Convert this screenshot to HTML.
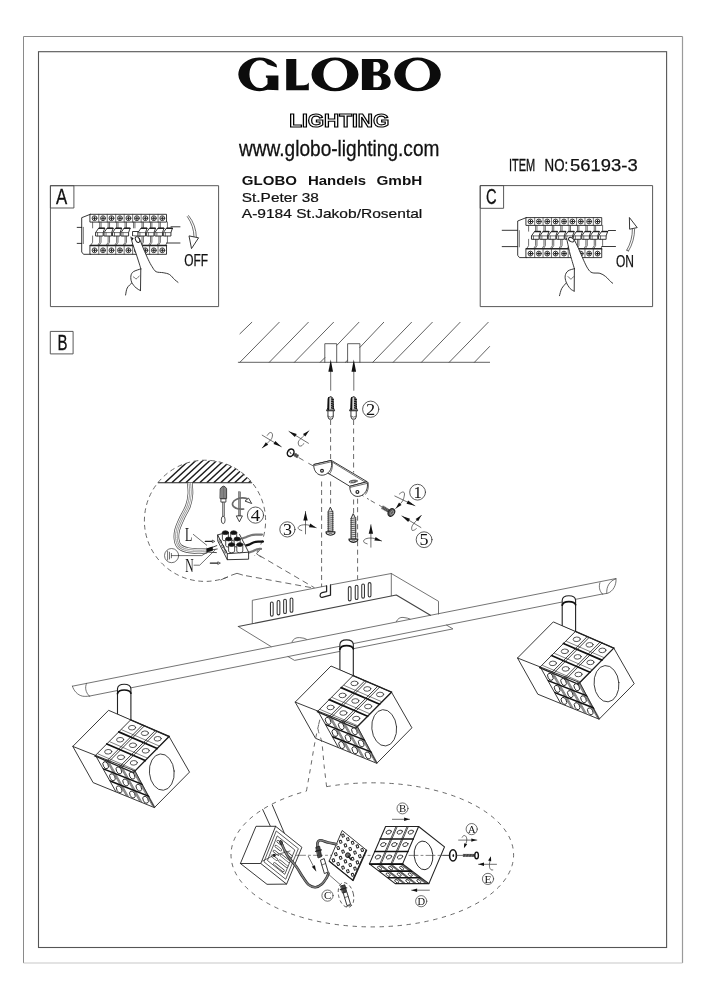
<!DOCTYPE html>
<html><head><meta charset="utf-8"><title>GLOBO 56193-3</title>
<style>
html,body{margin:0;padding:0;background:#fff;}
svg{display:block;will-change:transform;}
text{font-family:"Liberation Sans",sans-serif;fill:#111;}
.l{fill:none;stroke:#222;stroke-width:0.9;stroke-linecap:round;stroke-linejoin:round;}
.t{fill:none;stroke:#333;stroke-width:0.7;stroke-linecap:round;stroke-linejoin:round;}
.m{fill:none;stroke:#505050;stroke-width:0.8;stroke-linecap:round;stroke-linejoin:round;}
.c{fill:none;stroke:#444;stroke-width:0.85;stroke-linecap:round;}
.b{fill:none;stroke:#111;stroke-width:1.6;stroke-linecap:round;stroke-linejoin:round;}
.d{fill:none;stroke:#444;stroke-width:0.8;stroke-dasharray:5 3.5;}
.w{fill:#fff;stroke:#222;stroke-width:0.9;stroke-linejoin:round;}
.k{fill:#111;stroke:none;}
.g{fill:#777;stroke:#222;stroke-width:0.6;}
.ser{font-family:"Liberation Serif",serif;}
</style></head><body>
<svg width="706" height="1000" viewBox="0 0 706 1000">
<rect width="706" height="1000" fill="#fff"/>
<!-- s_head -->
<g id="frame" fill="none">
<path d="M23.5 963 V36.5 H682.5" stroke="#8a8a8a" stroke-width="1"/>
<path d="M682.5 36.5 V963" stroke="#9a9a9a" stroke-width="1.2"/>
<path d="M23.5 963 H682.5" stroke="#c8c8c8" stroke-width="1.2"/>
<rect x="38.5" y="51.7" width="628.1" height="895.8" stroke="#555" stroke-width="1.1"/>
</g>
<g id="header">
<path d="M276.5 64.4 A21.1 16.8 0 1 0 267.5 89.85 L278.4 90.2 V75.4 H265.9 V77.4 L267.5 77.9 V83.9 A10.5 13.9 0 1 1 267.5 64.5 L277 67.4 Z M286.2 59 H296.3 V85.5 L304 85.3 Q307.6 85 308.8 82.6 V90.2 H286.2 Z M311.5 74.45 A23.5 16.85 0 1 0 358.5 74.45 A23.5 16.85 0 1 0 311.5 74.45 Z M323.4 74.2 A11.9 13.9 0 1 0 347.2 74.2 A11.9 13.9 0 1 0 323.4 74.2 Z M361.9 58.9 H378 C385 58.9 388.3 61.5 388.3 66 C388.3 70 386 72.5 382.5 73.4 C387.5 74.2 390.7 77 390.7 81.8 C390.7 87 386.5 90.1 379 90.1 H361.9 Z M373.4 61.9 H376 C379 61.9 380.3 63.8 380.3 66.8 C380.3 70 379 71.8 376 71.8 H373.4 Z M373.4 75.4 H376.5 C380 75.4 381.7 77.6 381.7 81.3 C381.7 85.2 380 87.3 376.5 87.3 H373.4 Z M394.2 74.45 A23.3 16.85 0 1 0 440.8 74.45 A23.3 16.85 0 1 0 394.2 74.45 Z M405.5 74.2 A12.2 13.9 0 1 0 429.9 74.2 A12.2 13.9 0 1 0 405.5 74.2 Z" fill="#0c0c0c" fill-rule="evenodd"/>
<text x="289.2" y="126.9" font-size="17.8" font-weight="bold" textLength="100" lengthAdjust="spacingAndGlyphs" style="fill:#fff;stroke:#000;stroke-width:1.1">LIGHTING</text>
<text x="239" y="156.3" font-size="22.5" textLength="200.4" lengthAdjust="spacingAndGlyphs" style="stroke:#111;stroke-width:0.3">www.globo-lighting.com</text>
<text x="241.8" y="184.8" font-size="12.6" font-weight="bold" textLength="55.2" lengthAdjust="spacingAndGlyphs">GLOBO</text>
<text x="307.9" y="184.8" font-size="12.6" font-weight="bold" textLength="58.3" lengthAdjust="spacingAndGlyphs">Handels</text>
<text x="376.5" y="184.8" font-size="12.6" font-weight="bold" textLength="45.8" lengthAdjust="spacingAndGlyphs">GmbH</text>
<text x="241.8" y="202" font-size="12.8" textLength="77" lengthAdjust="spacingAndGlyphs" style="stroke:#111;stroke-width:0.2">St.Peter 38</text>
<text x="241.8" y="217.9" font-size="12.8" textLength="180.5" lengthAdjust="spacingAndGlyphs" style="stroke:#111;stroke-width:0.2">A-9184 St.Jakob/Rosental</text>
<text x="508.9" y="170.6" font-size="16.8" textLength="26.2" lengthAdjust="spacingAndGlyphs" style="stroke:#111;stroke-width:0.35">ITEM</text>
<text x="544.6" y="170.6" font-size="16.8" textLength="23.6" lengthAdjust="spacingAndGlyphs" style="stroke:#111;stroke-width:0.35">NO:</text>
<text x="570.1" y="170.6" font-size="16.8" textLength="67.6" lengthAdjust="spacingAndGlyphs" style="stroke:#111;stroke-width:0.25">56193-3</text>
</g>
<!-- s_panels -->
<g id="panelA">
<rect class="m" x="50.8" y="185.7" width="167.8" height="120.9" style="stroke-width:0.95"/>
<rect class="m" x="50.8" y="185.7" width="23.1" height="22.3" style="stroke-width:0.95"/>
<text x="56.1" y="203.8" font-size="21.6" textLength="11.2" lengthAdjust="spacingAndGlyphs" style="stroke:#111;stroke-width:0.3">A</text>
<g transform="translate(90.3 214.3)">
<rect class="l" x="0" y="0" width="76.23" height="7.8"/>
<circle class="l" cx="4.24" cy="3.9" r="2.45" style="stroke-width:0.95;stroke:#333"/>
<path class="l" d="M2.74 3.9 H5.74 M4.24 2.4 V5.4" style="stroke-width:1.05;stroke:#222"/>
<path class="t" d="M8.47 0 L8.47 7.8"/>
<circle class="l" cx="12.71" cy="3.9" r="2.45" style="stroke-width:0.95;stroke:#333"/>
<path class="l" d="M11.21 3.9 H14.21 M12.71 2.4 V5.4" style="stroke-width:1.05;stroke:#222"/>
<path class="t" d="M16.94 0 L16.94 7.8"/>
<circle class="l" cx="21.18" cy="3.9" r="2.45" style="stroke-width:0.95;stroke:#333"/>
<path class="l" d="M19.68 3.9 H22.68 M21.18 2.4 V5.4" style="stroke-width:1.05;stroke:#222"/>
<path class="t" d="M25.41 0 L25.41 7.8"/>
<circle class="l" cx="29.65" cy="3.9" r="2.45" style="stroke-width:0.95;stroke:#333"/>
<path class="l" d="M28.15 3.9 H31.15 M29.65 2.4 V5.4" style="stroke-width:1.05;stroke:#222"/>
<path class="t" d="M33.88 0 L33.88 7.8"/>
<circle class="l" cx="38.12" cy="3.9" r="2.45" style="stroke-width:0.95;stroke:#333"/>
<path class="l" d="M36.62 3.9 H39.62 M38.12 2.4 V5.4" style="stroke-width:1.05;stroke:#222"/>
<path class="t" d="M42.35 0 L42.35 7.8"/>
<circle class="l" cx="46.59" cy="3.9" r="2.45" style="stroke-width:0.95;stroke:#333"/>
<path class="l" d="M45.09 3.9 H48.09 M46.59 2.4 V5.4" style="stroke-width:1.05;stroke:#222"/>
<path class="t" d="M50.82 0 L50.82 7.8"/>
<circle class="l" cx="55.06" cy="3.9" r="2.45" style="stroke-width:0.95;stroke:#333"/>
<path class="l" d="M53.56 3.9 H56.56 M55.06 2.4 V5.4" style="stroke-width:1.05;stroke:#222"/>
<path class="t" d="M59.29 0 L59.29 7.8"/>
<circle class="l" cx="63.53" cy="3.9" r="2.45" style="stroke-width:0.95;stroke:#333"/>
<path class="l" d="M62.03 3.9 H65.03 M63.53 2.4 V5.4" style="stroke-width:1.05;stroke:#222"/>
<path class="t" d="M67.76 0 L67.76 7.8"/>
<circle class="l" cx="72" cy="3.9" r="2.45" style="stroke-width:0.95;stroke:#333"/>
<path class="l" d="M70.5 3.9 H73.5 M72 2.4 V5.4" style="stroke-width:1.05;stroke:#222"/>
<path class="t" d="M2.3 7.8 L2.3 13.6"/>
<path class="t" d="M10.77 7.8 L10.77 13.6"/>
<path class="t" d="M9.37 7.8 L9.37 13.6"/>
<path class="t" d="M19.24 7.8 L19.24 13.6"/>
<path class="t" d="M17.84 7.8 L17.84 13.6"/>
<path class="t" d="M27.71 7.8 L27.71 13.6"/>
<path class="t" d="M26.31 7.8 L26.31 13.6"/>
<path class="t" d="M36.18 7.8 L36.18 13.6"/>
<path class="t" d="M34.78 7.8 L34.78 13.6"/>
<path class="t" d="M44.65 7.8 L44.65 13.6"/>
<path class="t" d="M43.25 7.8 L43.25 13.6"/>
<path class="t" d="M53.12 7.8 L53.12 13.6"/>
<path class="t" d="M51.72 7.8 L51.72 13.6"/>
<path class="t" d="M61.59 7.8 L61.59 13.6"/>
<path class="t" d="M60.19 7.8 L60.19 13.6"/>
<path class="t" d="M70.06 7.8 L70.06 13.6"/>
<path class="t" d="M68.66 7.8 L68.66 13.6"/>
<path class="t" d="M77.13 7.8 L77.13 13.6"/>
<path class="t" d="M2.3 21.7 L2.3 28 L0.6 30.7"/>
<path class="t" d="M10.77 21.7 L10.77 28 L9.07 30.7"/>
<path class="t" d="M9.37 21.7 L9.37 28 L7.67 30.7"/>
<path class="t" d="M19.24 21.7 L19.24 28 L17.54 30.7"/>
<path class="t" d="M17.84 21.7 L17.84 28 L16.14 30.7"/>
<path class="t" d="M27.71 21.7 L27.71 28 L26.01 30.7"/>
<path class="t" d="M26.31 21.7 L26.31 28 L24.61 30.7"/>
<path class="t" d="M36.18 21.7 L36.18 28 L34.48 30.7"/>
<path class="t" d="M34.78 21.7 L34.78 28 L33.08 30.7"/>
<path class="t" d="M44.65 21.7 L44.65 28 L42.95 30.7"/>
<path class="t" d="M43.25 21.7 L43.25 28 L41.55 30.7"/>
<path class="t" d="M53.12 21.7 L53.12 28 L51.42 30.7"/>
<path class="t" d="M51.72 21.7 L51.72 28 L50.02 30.7"/>
<path class="t" d="M61.59 21.7 L61.59 28 L59.89 30.7"/>
<path class="t" d="M60.19 21.7 L60.19 28 L58.49 30.7"/>
<path class="t" d="M70.06 21.7 L70.06 28 L68.36 30.7"/>
<path class="t" d="M68.66 21.7 L68.66 28 L66.96 30.7"/>
<path class="t" d="M77.13 21.7 L77.13 28 L75.43 30.7"/>
<rect class="l" x="0" y="30.9" width="76.23" height="9.1"/>
<path class="l" d="M0 31.3 L76.23 31.3" style="stroke-width:1.3"/>
<circle class="l" cx="4.24" cy="36" r="2.45" style="stroke-width:0.95;stroke:#333"/>
<path class="l" d="M2.74 36 H5.74 M4.24 34.5 V37.5" style="stroke-width:1.05;stroke:#222"/>
<path class="t" d="M8.47 31 L8.47 40"/>
<circle class="l" cx="12.71" cy="36" r="2.45" style="stroke-width:0.95;stroke:#333"/>
<path class="l" d="M11.21 36 H14.21 M12.71 34.5 V37.5" style="stroke-width:1.05;stroke:#222"/>
<path class="t" d="M16.94 31 L16.94 40"/>
<circle class="l" cx="21.18" cy="36" r="2.45" style="stroke-width:0.95;stroke:#333"/>
<path class="l" d="M19.68 36 H22.68 M21.18 34.5 V37.5" style="stroke-width:1.05;stroke:#222"/>
<path class="t" d="M25.41 31 L25.41 40"/>
<circle class="l" cx="29.65" cy="36" r="2.45" style="stroke-width:0.95;stroke:#333"/>
<path class="l" d="M28.15 36 H31.15 M29.65 34.5 V37.5" style="stroke-width:1.05;stroke:#222"/>
<path class="t" d="M33.88 31 L33.88 40"/>
<circle class="l" cx="38.12" cy="36" r="2.45" style="stroke-width:0.95;stroke:#333"/>
<path class="l" d="M36.62 36 H39.62 M38.12 34.5 V37.5" style="stroke-width:1.05;stroke:#222"/>
<path class="t" d="M42.35 31 L42.35 40"/>
<circle class="l" cx="46.59" cy="36" r="2.45" style="stroke-width:0.95;stroke:#333"/>
<path class="l" d="M45.09 36 H48.09 M46.59 34.5 V37.5" style="stroke-width:1.05;stroke:#222"/>
<path class="t" d="M50.82 31 L50.82 40"/>
<circle class="l" cx="55.06" cy="36" r="2.45" style="stroke-width:0.95;stroke:#333"/>
<path class="l" d="M53.56 36 H56.56 M55.06 34.5 V37.5" style="stroke-width:1.05;stroke:#222"/>
<path class="t" d="M59.29 31 L59.29 40"/>
<circle class="l" cx="63.53" cy="36" r="2.45" style="stroke-width:0.95;stroke:#333"/>
<path class="l" d="M62.03 36 H65.03 M63.53 34.5 V37.5" style="stroke-width:1.05;stroke:#222"/>
<path class="t" d="M67.76 31 L67.76 40"/>
<circle class="l" cx="72" cy="36" r="2.45" style="stroke-width:0.95;stroke:#333"/>
<path class="l" d="M70.5 36 H73.5 M72 34.5 V37.5" style="stroke-width:1.05;stroke:#222"/>
<path class="w" d="M8.47 13.7 L14.47 13.7 L12.87 18.3 L12.87 21.7 L5.27 21.7 L5.27 18.3 Z"/>
<path class="t" d="M5.27 18.3 L12.87 18.3"/>
<path class="t" d="M7.27 18.3 L7.27 21.7"/>
<path class="l" d="M8.67 14.1 L14.27 14.1" style="stroke-width:1.2"/>
<path class="w" d="M16.94 13.7 L22.94 13.7 L21.34 18.3 L21.34 21.7 L13.74 21.7 L13.74 18.3 Z"/>
<path class="t" d="M13.74 18.3 L21.34 18.3"/>
<path class="t" d="M15.74 18.3 L15.74 21.7"/>
<path class="l" d="M17.14 14.1 L22.74 14.1" style="stroke-width:1.2"/>
<path class="w" d="M25.41 13.7 L31.41 13.7 L29.81 18.3 L29.81 21.7 L22.21 21.7 L22.21 18.3 Z"/>
<path class="t" d="M22.21 18.3 L29.81 18.3"/>
<path class="t" d="M24.21 18.3 L24.21 21.7"/>
<path class="l" d="M25.61 14.1 L31.21 14.1" style="stroke-width:1.2"/>
<path class="w" d="M33.88 13.7 L39.88 13.7 L38.28 18.3 L38.28 21.7 L30.68 21.7 L30.68 18.3 Z"/>
<path class="t" d="M30.68 18.3 L38.28 18.3"/>
<path class="t" d="M32.68 18.3 L32.68 21.7"/>
<path class="l" d="M34.08 14.1 L39.68 14.1" style="stroke-width:1.2"/>
<path class="w" d="M42.25 17.2 L50.25 17.2 L50.25 21.7 L42.25 21.7 Z"/>
<path class="w" d="M50.82 13.7 L56.82 13.7 L55.22 18.3 L55.22 21.7 L47.62 21.7 L47.62 18.3 Z"/>
<path class="t" d="M47.62 18.3 L55.22 18.3"/>
<path class="t" d="M49.62 18.3 L49.62 21.7"/>
<path class="l" d="M51.02 14.1 L56.62 14.1" style="stroke-width:1.2"/>
<path class="w" d="M59.29 13.7 L65.29 13.7 L63.69 18.3 L63.69 21.7 L56.09 21.7 L56.09 18.3 Z"/>
<path class="t" d="M56.09 18.3 L63.69 18.3"/>
<path class="t" d="M58.09 18.3 L58.09 21.7"/>
<path class="l" d="M59.49 14.1 L65.09 14.1" style="stroke-width:1.2"/>
<path class="w" d="M67.76 13.7 L73.76 13.7 L72.16 18.3 L72.16 21.7 L64.56 21.7 L64.56 18.3 Z"/>
<path class="t" d="M64.56 18.3 L72.16 18.3"/>
<path class="t" d="M66.56 18.3 L66.56 21.7"/>
<path class="l" d="M67.96 14.1 L73.56 14.1" style="stroke-width:1.2"/>
<path class="w" d="M76.23 13.7 L82.23 13.7 L80.63 18.3 L80.63 21.7 L73.03 21.7 L73.03 18.3 Z"/>
<path class="t" d="M73.03 18.3 L80.63 18.3"/>
<path class="t" d="M75.03 18.3 L75.03 21.7"/>
<path class="l" d="M76.43 14.1 L82.03 14.1" style="stroke-width:1.2"/>
<path class="l" d="M0 0 L-8.6 3.4 L-8.6 37.7 L-6.8 40 L0 40"/>
<path class="t" d="M-7 13 L-7 29.3"/>
</g>
<path class="l" d="M77.2 227.4 L81.7 227.4"/>
<path class="l" d="M77.2 243.4 L81.7 243.4"/>
<path class="l" d="M171 226.8 L180 226.8"/>
<path class="l" d="M166.6 243 L180 243"/>
<path d="M131.2 237 L133 236 L138.8 237.5 L139.3 238.2 L143.3 248.3 L148.3 259.7 L152.1 266.7 L145 280 L140.8 285 L140.8 268.9 L139.8 265.3 L136.2 254 L132.7 244.1 L130.9 237 Z" fill="#fff" stroke="none"/>
<path class="l" d="M130.9 237 C131.2 238.18 131.82 241.27 132.7 244.1 C133.58 246.93 135.02 250.47 136.2 254 C137.38 257.53 139.03 262.82 139.8 265.3 C140.57 267.78 140.63 268.3 140.8 268.9"/>
<path class="l" d="M139.3 238.2 C139.97 239.88 141.8 244.72 143.3 248.3 C144.8 251.88 146.83 256.63 148.3 259.7 C149.77 262.77 150.8 264.7 152.1 266.7 C153.4 268.7 154.25 270.7 156.1 271.7 C157.95 272.7 160.97 272.23 163.2 272.7 C165.43 273.17 167.62 273.37 169.5 274.5 C171.38 275.63 173.08 278.2 174.5 279.5 C175.92 280.8 177.42 281.83 178 282.3"/>
<path class="l" d="M140.8 268.9 C139.57 269.37 135.05 270.52 133.4 271.7 C131.75 272.88 131.18 274.23 130.9 276 C130.62 277.77 130.82 280.3 131.7 282.3 C132.58 284.3 134.75 286.63 136.2 288 C137.65 289.37 139.7 290.08 140.4 290.5"/>
<path class="l" d="M140.8 268.9 L140.5 290.5"/>
<path class="t" d="M133.4 276.7 C133.87 277.05 135.25 278.92 136.2 278.8 C137.15 278.68 138.62 276.47 139.1 276"/>
<path class="l" d="M131.7 283 C130.95 283.83 128.22 286 127.2 288 C126.18 290 125.87 293.83 125.6 295"/>
<ellipse class="w" cx="137.5" cy="239.6" rx="1.9" ry="3.1" transform="rotate(-28 137.5 239.6)"/>
<path class="k" d="M131.2 237 L132.2 240.5 L133.6 238.2 Z"/>
<path class="t" d="M188.6 215.6 Q196.2 225 196.4 237.6"/>
<path class="t" d="M187.3 216.6 Q193.9 226 194 237"/>
<path class="w" d="M189 235.9 L198.6 237.8 L191.5 248.6 Z"/>
<text x="184.2" y="266.3" font-size="16" textLength="23.8" lengthAdjust="spacingAndGlyphs" style="stroke:#111;stroke-width:0.25">OFF</text>
</g>
<g id="panelC">
<rect class="m" x="480.6" y="185.6" width="172" height="121" style="stroke-width:0.95"/>
<rect class="m" x="480.6" y="185.6" width="23" height="22.7" style="stroke-width:0.95"/>
<text x="485.9" y="204" font-size="21.2" textLength="10.6" lengthAdjust="spacingAndGlyphs" style="stroke:#111;stroke-width:0.3">C</text>
<g transform="translate(526.3 217.6)">
<rect class="l" x="0" y="0" width="75.42" height="7.8"/>
<circle class="l" cx="4.19" cy="3.9" r="2.45" style="stroke-width:0.95;stroke:#333"/>
<path class="l" d="M2.69 3.9 H5.69 M4.19 2.4 V5.4" style="stroke-width:1.05;stroke:#222"/>
<path class="t" d="M8.38 0 L8.38 7.8"/>
<circle class="l" cx="12.57" cy="3.9" r="2.45" style="stroke-width:0.95;stroke:#333"/>
<path class="l" d="M11.07 3.9 H14.07 M12.57 2.4 V5.4" style="stroke-width:1.05;stroke:#222"/>
<path class="t" d="M16.76 0 L16.76 7.8"/>
<circle class="l" cx="20.95" cy="3.9" r="2.45" style="stroke-width:0.95;stroke:#333"/>
<path class="l" d="M19.45 3.9 H22.45 M20.95 2.4 V5.4" style="stroke-width:1.05;stroke:#222"/>
<path class="t" d="M25.14 0 L25.14 7.8"/>
<circle class="l" cx="29.33" cy="3.9" r="2.45" style="stroke-width:0.95;stroke:#333"/>
<path class="l" d="M27.83 3.9 H30.83 M29.33 2.4 V5.4" style="stroke-width:1.05;stroke:#222"/>
<path class="t" d="M33.52 0 L33.52 7.8"/>
<circle class="l" cx="37.71" cy="3.9" r="2.45" style="stroke-width:0.95;stroke:#333"/>
<path class="l" d="M36.21 3.9 H39.21 M37.71 2.4 V5.4" style="stroke-width:1.05;stroke:#222"/>
<path class="t" d="M41.9 0 L41.9 7.8"/>
<circle class="l" cx="46.09" cy="3.9" r="2.45" style="stroke-width:0.95;stroke:#333"/>
<path class="l" d="M44.59 3.9 H47.59 M46.09 2.4 V5.4" style="stroke-width:1.05;stroke:#222"/>
<path class="t" d="M50.28 0 L50.28 7.8"/>
<circle class="l" cx="54.47" cy="3.9" r="2.45" style="stroke-width:0.95;stroke:#333"/>
<path class="l" d="M52.97 3.9 H55.97 M54.47 2.4 V5.4" style="stroke-width:1.05;stroke:#222"/>
<path class="t" d="M58.66 0 L58.66 7.8"/>
<circle class="l" cx="62.85" cy="3.9" r="2.45" style="stroke-width:0.95;stroke:#333"/>
<path class="l" d="M61.35 3.9 H64.35 M62.85 2.4 V5.4" style="stroke-width:1.05;stroke:#222"/>
<path class="t" d="M67.04 0 L67.04 7.8"/>
<circle class="l" cx="71.23" cy="3.9" r="2.45" style="stroke-width:0.95;stroke:#333"/>
<path class="l" d="M69.73 3.9 H72.73 M71.23 2.4 V5.4" style="stroke-width:1.05;stroke:#222"/>
<path class="t" d="M2.3 7.8 L2.3 13.6"/>
<path class="t" d="M10.68 7.8 L10.68 13.6"/>
<path class="t" d="M9.28 7.8 L9.28 13.6"/>
<path class="t" d="M19.06 7.8 L19.06 13.6"/>
<path class="t" d="M17.66 7.8 L17.66 13.6"/>
<path class="t" d="M27.44 7.8 L27.44 13.6"/>
<path class="t" d="M26.04 7.8 L26.04 13.6"/>
<path class="t" d="M35.82 7.8 L35.82 13.6"/>
<path class="t" d="M34.42 7.8 L34.42 13.6"/>
<path class="t" d="M44.2 7.8 L44.2 13.6"/>
<path class="t" d="M42.8 7.8 L42.8 13.6"/>
<path class="t" d="M52.58 7.8 L52.58 13.6"/>
<path class="t" d="M51.18 7.8 L51.18 13.6"/>
<path class="t" d="M60.96 7.8 L60.96 13.6"/>
<path class="t" d="M59.56 7.8 L59.56 13.6"/>
<path class="t" d="M69.34 7.8 L69.34 13.6"/>
<path class="t" d="M67.94 7.8 L67.94 13.6"/>
<path class="t" d="M76.32 7.8 L76.32 13.6"/>
<path class="t" d="M2.3 21.7 L2.3 28 L0.6 30.7"/>
<path class="t" d="M10.68 21.7 L10.68 28 L8.98 30.7"/>
<path class="t" d="M9.28 21.7 L9.28 28 L7.58 30.7"/>
<path class="t" d="M19.06 21.7 L19.06 28 L17.36 30.7"/>
<path class="t" d="M17.66 21.7 L17.66 28 L15.96 30.7"/>
<path class="t" d="M27.44 21.7 L27.44 28 L25.74 30.7"/>
<path class="t" d="M26.04 21.7 L26.04 28 L24.34 30.7"/>
<path class="t" d="M35.82 21.7 L35.82 28 L34.12 30.7"/>
<path class="t" d="M34.42 21.7 L34.42 28 L32.72 30.7"/>
<path class="t" d="M44.2 21.7 L44.2 28 L42.5 30.7"/>
<path class="t" d="M42.8 21.7 L42.8 28 L41.1 30.7"/>
<path class="t" d="M52.58 21.7 L52.58 28 L50.88 30.7"/>
<path class="t" d="M51.18 21.7 L51.18 28 L49.48 30.7"/>
<path class="t" d="M60.96 21.7 L60.96 28 L59.26 30.7"/>
<path class="t" d="M59.56 21.7 L59.56 28 L57.86 30.7"/>
<path class="t" d="M69.34 21.7 L69.34 28 L67.64 30.7"/>
<path class="t" d="M67.94 21.7 L67.94 28 L66.24 30.7"/>
<path class="t" d="M76.32 21.7 L76.32 28 L74.62 30.7"/>
<rect class="l" x="0" y="30.9" width="75.42" height="9.1"/>
<path class="l" d="M0 31.3 L75.42 31.3" style="stroke-width:1.3"/>
<circle class="l" cx="4.19" cy="36" r="2.45" style="stroke-width:0.95;stroke:#333"/>
<path class="l" d="M2.69 36 H5.69 M4.19 34.5 V37.5" style="stroke-width:1.05;stroke:#222"/>
<path class="t" d="M8.38 31 L8.38 40"/>
<circle class="l" cx="12.57" cy="36" r="2.45" style="stroke-width:0.95;stroke:#333"/>
<path class="l" d="M11.07 36 H14.07 M12.57 34.5 V37.5" style="stroke-width:1.05;stroke:#222"/>
<path class="t" d="M16.76 31 L16.76 40"/>
<circle class="l" cx="20.95" cy="36" r="2.45" style="stroke-width:0.95;stroke:#333"/>
<path class="l" d="M19.45 36 H22.45 M20.95 34.5 V37.5" style="stroke-width:1.05;stroke:#222"/>
<path class="t" d="M25.14 31 L25.14 40"/>
<circle class="l" cx="29.33" cy="36" r="2.45" style="stroke-width:0.95;stroke:#333"/>
<path class="l" d="M27.83 36 H30.83 M29.33 34.5 V37.5" style="stroke-width:1.05;stroke:#222"/>
<path class="t" d="M33.52 31 L33.52 40"/>
<circle class="l" cx="37.71" cy="36" r="2.45" style="stroke-width:0.95;stroke:#333"/>
<path class="l" d="M36.21 36 H39.21 M37.71 34.5 V37.5" style="stroke-width:1.05;stroke:#222"/>
<path class="t" d="M41.9 31 L41.9 40"/>
<circle class="l" cx="46.09" cy="36" r="2.45" style="stroke-width:0.95;stroke:#333"/>
<path class="l" d="M44.59 36 H47.59 M46.09 34.5 V37.5" style="stroke-width:1.05;stroke:#222"/>
<path class="t" d="M50.28 31 L50.28 40"/>
<circle class="l" cx="54.47" cy="36" r="2.45" style="stroke-width:0.95;stroke:#333"/>
<path class="l" d="M52.97 36 H55.97 M54.47 34.5 V37.5" style="stroke-width:1.05;stroke:#222"/>
<path class="t" d="M58.66 31 L58.66 40"/>
<circle class="l" cx="62.85" cy="36" r="2.45" style="stroke-width:0.95;stroke:#333"/>
<path class="l" d="M61.35 36 H64.35 M62.85 34.5 V37.5" style="stroke-width:1.05;stroke:#222"/>
<path class="t" d="M67.04 31 L67.04 40"/>
<circle class="l" cx="71.23" cy="36" r="2.45" style="stroke-width:0.95;stroke:#333"/>
<path class="l" d="M69.73 36 H72.73 M71.23 34.5 V37.5" style="stroke-width:1.05;stroke:#222"/>
<path class="w" d="M8.38 13.7 L14.38 13.7 L12.78 18.3 L12.78 21.7 L5.18 21.7 L5.18 18.3 Z"/>
<path class="t" d="M5.18 18.3 L12.78 18.3"/>
<path class="t" d="M7.18 18.3 L7.18 21.7"/>
<path class="l" d="M8.58 14.1 L14.18 14.1" style="stroke-width:1.2"/>
<path class="w" d="M16.76 13.7 L22.76 13.7 L21.16 18.3 L21.16 21.7 L13.56 21.7 L13.56 18.3 Z"/>
<path class="t" d="M13.56 18.3 L21.16 18.3"/>
<path class="t" d="M15.56 18.3 L15.56 21.7"/>
<path class="l" d="M16.96 14.1 L22.56 14.1" style="stroke-width:1.2"/>
<path class="w" d="M25.14 13.7 L31.14 13.7 L29.54 18.3 L29.54 21.7 L21.94 21.7 L21.94 18.3 Z"/>
<path class="t" d="M21.94 18.3 L29.54 18.3"/>
<path class="t" d="M23.94 18.3 L23.94 21.7"/>
<path class="l" d="M25.34 14.1 L30.94 14.1" style="stroke-width:1.2"/>
<path class="w" d="M33.52 13.7 L39.52 13.7 L37.92 18.3 L37.92 21.7 L30.32 21.7 L30.32 18.3 Z"/>
<path class="t" d="M30.32 18.3 L37.92 18.3"/>
<path class="t" d="M32.32 18.3 L32.32 21.7"/>
<path class="l" d="M33.72 14.1 L39.32 14.1" style="stroke-width:1.2"/>
<path class="w" d="M41.9 13.7 L47.9 13.7 L46.3 18.3 L46.3 21.7 L38.7 21.7 L38.7 18.3 Z"/>
<path class="t" d="M38.7 18.3 L46.3 18.3"/>
<path class="t" d="M40.7 18.3 L40.7 21.7"/>
<path class="l" d="M42.1 14.1 L47.7 14.1" style="stroke-width:1.2"/>
<path class="w" d="M50.28 13.7 L56.28 13.7 L54.68 18.3 L54.68 21.7 L47.08 21.7 L47.08 18.3 Z"/>
<path class="t" d="M47.08 18.3 L54.68 18.3"/>
<path class="t" d="M49.08 18.3 L49.08 21.7"/>
<path class="l" d="M50.48 14.1 L56.08 14.1" style="stroke-width:1.2"/>
<path class="w" d="M58.66 13.7 L64.66 13.7 L63.06 18.3 L63.06 21.7 L55.46 21.7 L55.46 18.3 Z"/>
<path class="t" d="M55.46 18.3 L63.06 18.3"/>
<path class="t" d="M57.46 18.3 L57.46 21.7"/>
<path class="l" d="M58.86 14.1 L64.46 14.1" style="stroke-width:1.2"/>
<path class="w" d="M67.04 13.7 L73.04 13.7 L71.44 18.3 L71.44 21.7 L63.84 21.7 L63.84 18.3 Z"/>
<path class="t" d="M63.84 18.3 L71.44 18.3"/>
<path class="t" d="M65.84 18.3 L65.84 21.7"/>
<path class="l" d="M67.24 14.1 L72.84 14.1" style="stroke-width:1.2"/>
<path class="w" d="M75.42 13.7 L81.42 13.7 L79.82 18.3 L79.82 21.7 L72.22 21.7 L72.22 18.3 Z"/>
<path class="t" d="M72.22 18.3 L79.82 18.3"/>
<path class="t" d="M74.22 18.3 L74.22 21.7"/>
<path class="l" d="M75.62 14.1 L81.22 14.1" style="stroke-width:1.2"/>
<path class="l" d="M0 0 L-8.6 3.4 L-8.6 37.7 L-6.8 40 L0 40"/>
<path class="t" d="M-7 13 L-7 29.3"/>
</g>
<path class="l" d="M502.2 230.3 L517.5 230.3"/>
<path class="l" d="M502.2 246.6 L517.5 246.6"/>
<path class="l" d="M608.4 230.5 L615.5 230.5"/>
<path class="l" d="M602 246.5 L615.5 246.5"/>
<path d="M566.6 238.3 L568.5 236.5 L573.5 238 L573.9 239 L578.7 248.9 L583.6 260.2 L587.9 268.7 L580 282 L574.4 286 L574.4 268.7 L572.3 261.7 L569.5 251.7 L566.6 238.3 Z" fill="#fff" stroke="none"/>
<path class="l" d="M566.6 238.3 C567.08 240.53 568.55 247.8 569.5 251.7 C570.45 255.6 571.48 258.87 572.3 261.7 C573.12 264.53 574.05 267.53 574.4 268.7"/>
<path class="l" d="M573.9 239 C574.7 240.65 577.08 245.37 578.7 248.9 C580.32 252.43 582.07 256.9 583.6 260.2 C585.13 263.5 586.48 266.62 587.9 268.7 C589.32 270.78 590.1 271.93 592.1 272.7 C594.1 273.47 597.65 272.67 599.9 273.3 C602.15 273.93 603.83 275.13 605.6 276.5 C607.37 277.87 609.32 280.38 610.5 281.5 C611.68 282.62 612.33 282.92 612.7 283.2"/>
<path class="l" d="M574.4 268.7 C573.33 269.07 569.53 269.72 568 270.9 C566.47 272.08 565.5 273.92 565.2 275.8 C564.9 277.68 565.37 280.07 566.2 282.2 C567.03 284.33 568.88 287.12 570.2 288.6 C571.52 290.08 573.45 290.68 574.1 291.1"/>
<path class="l" d="M574.4 268.7 L574.2 291.1"/>
<path class="t" d="M568 276.5 C568.48 276.92 569.95 279 570.9 279 C571.85 279 573.23 276.92 573.7 276.5"/>
<path class="l" d="M566.2 283 C565.45 283.93 562.82 286.48 561.7 288.6 C560.58 290.72 559.87 294.52 559.5 295.7"/>
<ellipse class="w" cx="571.3" cy="239.7" rx="1.9" ry="3" transform="rotate(-60 571.3 239.7)"/>
<path class="t" d="M634.6 229.1 Q634.6 241 628.5 251"/>
<path class="t" d="M632.4 229 Q632.6 240 626.8 250.2"/>
<path class="w" d="M629.4 217.5 L629.6 229.2 L637.2 227.6 Z"/>
<path class="t" d="M626.8 250.2 L628.5 251"/>
<text x="616" y="267.2" font-size="16" textLength="18" lengthAdjust="spacingAndGlyphs" style="stroke:#111;stroke-width:0.25">ON</text>
</g>
<rect class="m" x="50.7" y="331.4" width="22.4" height="22.5" style="stroke-width:0.95"/>
<text x="57.4" y="349.8" font-size="21.4" textLength="10" lengthAdjust="spacingAndGlyphs" style="stroke:#111;stroke-width:0.3">B</text>
<!-- s_ceiling -->
<g id="ceiling">
<path class="c" d="M238.3 362.3 L489.6 362.3"/>
<path class="c" d="M239.9 333.8 L251.8 322.3"/>
<path class="c" d="M239.9 362.3 L279.2 322.3"/>
<path class="c" d="M269.3 362.3 L308.3 322.3"/>
<path class="c" d="M294.4 362.3 L333.5 322.3"/>
<path class="c" d="M320.2 362.3 L324.8 357.7"/>
<path class="c" d="M337 345.2 L358.9 322.3"/>
<path class="c" d="M345.4 362.3 L347.6 360.2"/>
<path class="c" d="M359.9 347.4 L383.7 322.3"/>
<path class="c" d="M372.8 362.3 L411.5 322.3"/>
<path class="c" d="M393.2 362.3 L432.3 322.3"/>
<path class="c" d="M421.4 362.3 L460.1 322.3"/>
<path class="c" d="M449.2 362.3 L488.2 322.3"/>
<path class="c" d="M474.4 362.3 L489.6 346.5"/>
<path class="c" d="M324.8 362.3 L324.8 343.7 L336.7 343.7 L336.7 362.3"/>
<path class="c" d="M347.6 362.3 L347.6 343.7 L359.9 343.7 L359.9 362.3"/>
<path class="t" d="M330.7 390.3 L330.7 368"/>
<path class="k" d="M330.7 359.4 L328.4 371.8 L333 371.8 Z"/>
<path class="t" d="M353.8 390.3 L353.8 368"/>
<path class="k" d="M353.8 359.4 L351.5 371.8 L356.1 371.8 Z"/>
</g>
<!-- s_mount -->
<g id="mount">
<path class="d" d="M330.6 420 L330.6 460.4"/>
<path class="d" d="M353.6 420 L353.6 472.5"/>
<path class="d" d="M330.6 481.5 L330.6 506.5"/>
<path class="d" d="M353.6 499.5 L353.6 513"/>
<path class="d" d="M321.6 481.5 L321.6 587"/>
<path class="d" d="M357.6 498.7 L357.6 579.5"/>
<path class="l" d="M328.3 398.4 Q330.6 394.6 332.9 398.4 L333.5 408.1 L334.7 410.8 L326.5 410.8 L327.7 408.1 Z" style="fill:#8a8a8a;stroke:#222;stroke-width:0.9"/>
<path class="l" d="M328.7 397.8 L328.3 410.1" style="stroke:#111;stroke-width:1.5"/>
<path class="l" d="M330.2 398 L330.2 408.4" style="stroke:#f2f2f2;stroke-width:1.1"/>
<path class="l" d="M331.5 399 L333.5 399.8" style="stroke:#111;stroke-width:1.1"/>
<path class="l" d="M331.5 401.2 L333.5 402" style="stroke:#111;stroke-width:1.1"/>
<path class="l" d="M331.5 403.4 L333.5 404.2" style="stroke:#111;stroke-width:1.1"/>
<path class="l" d="M331.5 405.6 L333.5 406.4" style="stroke:#111;stroke-width:1.1"/>
<path class="l" d="M331.5 407.8 L333.5 408.6" style="stroke:#111;stroke-width:1.1"/>
<path class="w" d="M327.95 410.8 L327.95 416.8 L329 419.1 L332.2 419.1 L333.25 416.8 L333.25 410.8 Z"/>
<path class="t" d="M328 416.2 Q330.6 418.4 333.2 416.2"/>
<path class="l" d="M351.3 398.4 Q353.6 394.6 355.9 398.4 L356.5 408.1 L357.7 410.8 L349.5 410.8 L350.7 408.1 Z" style="fill:#8a8a8a;stroke:#222;stroke-width:0.9"/>
<path class="l" d="M351.7 397.8 L351.3 410.1" style="stroke:#111;stroke-width:1.5"/>
<path class="l" d="M353.2 398 L353.2 408.4" style="stroke:#f2f2f2;stroke-width:1.1"/>
<path class="l" d="M354.5 399 L356.5 399.8" style="stroke:#111;stroke-width:1.1"/>
<path class="l" d="M354.5 401.2 L356.5 402" style="stroke:#111;stroke-width:1.1"/>
<path class="l" d="M354.5 403.4 L356.5 404.2" style="stroke:#111;stroke-width:1.1"/>
<path class="l" d="M354.5 405.6 L356.5 406.4" style="stroke:#111;stroke-width:1.1"/>
<path class="l" d="M354.5 407.8 L356.5 408.6" style="stroke:#111;stroke-width:1.1"/>
<path class="w" d="M350.95 410.8 L350.95 416.8 L352 419.1 L355.2 419.1 L356.25 416.8 L356.25 410.8 Z"/>
<path class="t" d="M351 416.2 Q353.6 418.4 356.2 416.2"/>
<circle class="t" cx="370.7" cy="409.2" r="8.1" style="stroke-width:0.8"/><text class="ser" x="366.1" y="414.89" font-size="17" textLength="9.2" lengthAdjust="spacingAndGlyphs">2</text>
<path class="d" d="M298.7 457.6 L303.5 460.4 M308.3 463.2 L313.4 466" style="stroke-dasharray:none"/>
<path class="d" d="M359.5 493.5 L363.5 496.2 M367 498.3 L368.8 499.4 M370.7 500.5 L374.9 503" style="stroke-dasharray:none"/>
<path class="l" d="M294 454.1 L298.2 456.9" style="stroke:#666;stroke-width:3.3;stroke-linecap:butt"/>
<path class="l" d="M294.8 456.2 L296.3 453.6" style="stroke:#222;stroke-width:0.6"/>
<path class="l" d="M296.4 457.2 L297.9 454.6" style="stroke:#222;stroke-width:0.6"/>
<ellipse class="l" cx="290.65" cy="452.75" rx="3.1" ry="3.9" transform="rotate(31 290.65 452.75)" style="stroke-width:1.5;stroke:#111;fill:#fff"/>
<path class="l" d="M290 452 L290.9 453.6" style="stroke-width:0.9"/>
<path class="t" d="M379.4 505.3 L382 507"/>
<path class="l" d="M382 507 L390 511.8" style="stroke:#444;stroke-width:3.4;stroke-linecap:butt"/>
<path class="l" d="M381.9 509.2 L383.7 505.8" style="stroke:#aaa;stroke-width:0.45"/>
<path class="l" d="M383.4 510.1 L385.2 506.7" style="stroke:#aaa;stroke-width:0.45"/>
<path class="l" d="M384.9 511 L386.7 507.6" style="stroke:#aaa;stroke-width:0.45"/>
<path class="l" d="M386.4 511.9 L388.2 508.5" style="stroke:#aaa;stroke-width:0.45"/>
<path class="l" d="M387.9 512.8 L389.7 509.4" style="stroke:#aaa;stroke-width:0.45"/>
<ellipse class="l" cx="391.4" cy="512.5" rx="2.9" ry="4.1" transform="rotate(31 391.4 512.5)" style="fill:#5a5a5a;stroke:#222;stroke-width:1.1"/>
<ellipse class="l" cx="392" cy="512.8" rx="1.3" ry="2.3" transform="rotate(31 392 512.8)" style="stroke:#bbb;stroke-width:0.5"/>
<path class="w" d="M313.8 464.5 L331.3 460.4 L367.1 481.7 L349.8 486.3 Z"/>
<path class="t" d="M332.1 462 L366.6 483"/>
<ellipse class="t" cx="353.2" cy="481.5" rx="4.2" ry="1.3" transform="rotate(-8 353.2 481.5)"/>
<ellipse class="t" cx="353.2" cy="481.5" rx="2.6" ry="0.7" transform="rotate(-8 353.2 481.5)"/>
<path class="w" d="M313.8 464.5 C313.5 469 315.5 473 319 474.6 C323 476.3 328 474.5 330.6 469.5 C331.6 467 332 464 331.3 460.4 Z"/>
<path class="t" d="M314.6 465.6 L331.3 461.8"/>
<path class="t" d="M329.4 474.2 C331.6 471.6 332.9 467.5 332.4 462.6"/>
<circle class="l" cx="322" cy="470.7" r="1.4" style="stroke-width:1.2"/>
<path class="w" d="M349.8 486.3 C349.6 491 351.5 494.6 355 496 C359.5 497.5 364.5 495 366.6 490 C367.5 487.5 367.8 485 367.1 481.7 Z"/>
<path class="t" d="M350.6 487.3 L367.1 483.4"/>
<path class="t" d="M365.6 494.3 C367.8 491.6 369 487.5 368.3 482.6"/>
<circle class="l" cx="357.4" cy="491.9" r="1.4" style="stroke-width:1.2"/>
<path class="l" d="M330.5 507.5 L332.8 512.1 L332.8 531.9 L328.2 531.9 L328.2 512.1 Z" style="fill:#e2e2e2;stroke:#222;stroke-width:0.9"/>
<path class="l" d="M327.9 512.05 L333.1 511.35" style="stroke:#333;stroke-width:0.7"/>
<path class="l" d="M327.9 514.1 L333.1 513.4" style="stroke:#333;stroke-width:0.7"/>
<path class="l" d="M327.9 516.15 L333.1 515.45" style="stroke:#333;stroke-width:0.7"/>
<path class="l" d="M327.9 518.2 L333.1 517.5" style="stroke:#333;stroke-width:0.7"/>
<path class="l" d="M327.9 520.25 L333.1 519.55" style="stroke:#333;stroke-width:0.7"/>
<path class="l" d="M327.9 522.3 L333.1 521.6" style="stroke:#333;stroke-width:0.7"/>
<path class="l" d="M327.9 524.35 L333.1 523.65" style="stroke:#333;stroke-width:0.7"/>
<path class="l" d="M327.9 526.4 L333.1 525.7" style="stroke:#333;stroke-width:0.7"/>
<path class="l" d="M327.9 528.45 L333.1 527.75" style="stroke:#333;stroke-width:0.7"/>
<path class="l" d="M327.9 530.5 L333.1 529.8" style="stroke:#333;stroke-width:0.7"/>
<path class="w" d="M326 531.9 L335 531.9 Q335.1 534.6 330.5 535.2 Q325.9 534.6 326 531.9 Z" style="stroke-width:1.1"/>
<path class="t" d="M329 533.6 L332 533.6"/>
<path class="l" d="M353.4 514 L355.7 518.6 L355.7 539.1 L351.1 539.1 L351.1 518.6 Z" style="fill:#e2e2e2;stroke:#222;stroke-width:0.9"/>
<path class="l" d="M350.8 518.55 L356 517.85" style="stroke:#333;stroke-width:0.7"/>
<path class="l" d="M350.8 520.6 L356 519.9" style="stroke:#333;stroke-width:0.7"/>
<path class="l" d="M350.8 522.65 L356 521.95" style="stroke:#333;stroke-width:0.7"/>
<path class="l" d="M350.8 524.7 L356 524" style="stroke:#333;stroke-width:0.7"/>
<path class="l" d="M350.8 526.75 L356 526.05" style="stroke:#333;stroke-width:0.7"/>
<path class="l" d="M350.8 528.8 L356 528.1" style="stroke:#333;stroke-width:0.7"/>
<path class="l" d="M350.8 530.85 L356 530.15" style="stroke:#333;stroke-width:0.7"/>
<path class="l" d="M350.8 532.9 L356 532.2" style="stroke:#333;stroke-width:0.7"/>
<path class="l" d="M350.8 534.95 L356 534.25" style="stroke:#333;stroke-width:0.7"/>
<path class="l" d="M350.8 537 L356 536.3" style="stroke:#333;stroke-width:0.7"/>
<path class="w" d="M348.9 539.1 L357.9 539.1 Q358 541.8 353.4 542.4 Q348.8 541.8 348.9 539.1 Z" style="stroke-width:1.1"/>
<path class="t" d="M351.9 540.8 L354.9 540.8"/>
<circle class="t" cx="287.4" cy="529.4" r="7.6" style="stroke-width:0.8"/><text class="ser" x="282.9" y="535.1" font-size="17" textLength="9" lengthAdjust="spacingAndGlyphs">3</text>
<circle class="t" cx="417.6" cy="492.2" r="7.9" style="stroke-width:0.8"/><text class="ser" x="413.4" y="497.73" font-size="16.5" textLength="8.4" lengthAdjust="spacingAndGlyphs">1</text>
<circle class="t" cx="424.1" cy="539.7" r="7.9" style="stroke-width:0.8"/><text class="ser" x="419.6" y="545.4" font-size="17" textLength="9" lengthAdjust="spacingAndGlyphs">5</text>
<path class="t" d="M305.5 533.9 L305.5 511.4"/><path class="k" d="M305.5 511.4 L307.7 520.4 L303.3 520.4 Z"/>
<path class="t" d="M301.8 530.5 C301.33 530.32 299.6 529.9 299 529.4 C298.4 528.9 298.03 528.12 298.2 527.5 C298.37 526.88 299.12 526.15 300 525.7 C300.88 525.25 302.25 524.93 303.5 524.8 C304.75 524.67 306.25 524.72 307.5 524.9 C308.75 525.08 309.55 525.43 311 525.9 C312.45 526.37 315.33 527.4 316.2 527.7"/>
<path class="k" d="M316.2 527.7 L308.96 527.21 L310.21 523.61 Z"/>
<path class="t" d="M370.9 547.2 L370.9 524.7"/><path class="k" d="M370.9 524.7 L373.1 533.7 L368.7 533.7 Z"/>
<path class="t" d="M367.2 543.8 C366.73 543.62 365 543.2 364.4 542.7 C363.8 542.2 363.43 541.42 363.6 540.8 C363.77 540.18 364.52 539.45 365.4 539 C366.28 538.55 367.65 538.23 368.9 538.1 C370.15 537.97 371.65 538.02 372.9 538.2 C374.15 538.38 374.95 538.73 376.4 539.2 C377.85 539.67 380.73 540.7 381.6 541"/>
<path class="k" d="M381.6 541 L374.36 540.51 L375.61 536.91 Z"/>
<path class="t" d="M262.2 435.2 L281.3 446.7"/><path class="k" d="M281.3 446.7 L273.52 444.12 L275.37 441.03 Z"/>
<path class="t" d="M267.3 435.4 C267.73 434.92 269.05 432.75 269.9 432.5 C270.75 432.25 272.12 432.88 272.4 433.9 C272.68 434.92 272.42 437.08 271.6 438.6 C270.78 440.12 269.07 441.45 267.5 443 C265.93 444.55 263.08 447.08 262.2 447.9"/>
<path class="k" d="M262.2 447.9 L265.89 442.17 L268.2 444.67 Z"/>
<path class="t" d="M308.5 443.3 L289 431.4"/><path class="k" d="M289 431.4 L296.77 434.03 L294.89 437.1 Z"/>
<path class="t" d="M303.6 443.6 C303.33 443.93 302.73 445.23 302 445.6 C301.27 445.97 299.82 446.4 299.2 445.8 C298.58 445.2 298.02 443.2 298.3 442 C298.58 440.8 299.87 439.77 300.9 438.6 C301.93 437.43 303.15 436.3 304.5 435 C305.85 433.7 308.25 431.5 309 430.8"/>
<path class="k" d="M309 430.8 L305.33 436.55 L303.02 434.06 Z"/>
<path class="t" d="M394.8 496 L414.9 505.7"/><path class="k" d="M414.9 505.7 L406.55 503.67 L408.12 500.43 Z"/>
<path class="t" d="M399.3 494.1 C399.78 493.77 401.35 492.28 402.2 492.1 C403.05 491.92 404.12 492.1 404.4 493 C404.68 493.9 404.32 496 403.9 497.5 C403.48 499 403.27 500.17 401.9 502 C400.53 503.83 396.73 507.42 395.7 508.5"/>
<path class="k" d="M395.7 508.5 L399.03 502.55 L401.49 504.9 Z"/>
<path class="t" d="M420.9 527.5 L401.9 516"/><path class="k" d="M401.9 516 L410.02 518.81 L408.15 521.89 Z"/>
<path class="t" d="M416.3 528.6 C415.98 528.83 415.1 529.72 414.4 530 C413.7 530.28 412.53 530.82 412.1 530.3 C411.67 529.78 411.52 528.03 411.8 526.9 C412.08 525.77 412.93 524.65 413.8 523.5 C414.67 522.35 415.73 521.37 417 520 C418.27 518.63 420.67 516.08 421.4 515.3"/>
<path class="k" d="M421.4 515.3 L418.13 521.28 L415.65 518.96 Z"/>
</g>
<!-- s_wiring -->
<g id="wiring">
<clipPath id="capclip"><path d="M157.79 482.8 A60.6 60.6 0 0 1 252.21 482.8 Z"/></clipPath>
<g clip-path="url(#capclip)">
<path class="l" d="M164.8 482.8 L192.9 456.8" style="stroke-width:1.4;stroke:#1a1a1a;stroke-linecap:butt"/>
<path class="l" d="M171.78 482.8 L199.88 456.8" style="stroke-width:1.4;stroke:#1a1a1a;stroke-linecap:butt"/>
<path class="l" d="M178.76 482.8 L206.86 456.8" style="stroke-width:1.4;stroke:#1a1a1a;stroke-linecap:butt"/>
<path class="l" d="M185.74 482.8 L213.84 456.8" style="stroke-width:1.4;stroke:#1a1a1a;stroke-linecap:butt"/>
<path class="l" d="M192.72 482.8 L220.82 456.8" style="stroke-width:1.4;stroke:#1a1a1a;stroke-linecap:butt"/>
<path class="l" d="M199.7 482.8 L227.8 456.8" style="stroke-width:1.4;stroke:#1a1a1a;stroke-linecap:butt"/>
<path class="l" d="M206.68 482.8 L234.78 456.8" style="stroke-width:1.4;stroke:#1a1a1a;stroke-linecap:butt"/>
<path class="l" d="M213.66 482.8 L241.76 456.8" style="stroke-width:1.4;stroke:#1a1a1a;stroke-linecap:butt"/>
<path class="l" d="M220.64 482.8 L248.74 456.8" style="stroke-width:1.4;stroke:#1a1a1a;stroke-linecap:butt"/>
<path class="l" d="M227.62 482.8 L255.72 456.8" style="stroke-width:1.4;stroke:#1a1a1a;stroke-linecap:butt"/>
<path class="l" d="M234.6 482.8 L262.7 456.8" style="stroke-width:1.4;stroke:#1a1a1a;stroke-linecap:butt"/>
<path class="l" d="M241.58 482.8 L269.68 456.8" style="stroke-width:1.4;stroke:#1a1a1a;stroke-linecap:butt"/>
<path class="l" d="M248.56 482.8 L276.66 456.8" style="stroke-width:1.4;stroke:#1a1a1a;stroke-linecap:butt"/>
<path class="l" d="M255.54 482.8 L283.64 456.8" style="stroke-width:1.4;stroke:#1a1a1a;stroke-linecap:butt"/>
</g>
<path class="l" d="M158.29 482.8 L251.71 482.8" style="stroke-width:1.1"/>
<path class="d" style="stroke-dasharray:4.8 3.6" d="M227.7 576.99 A60.6 60.6 0 1 1 254.64 555.56"/>
<path class="t" d="M261 548.5 L256.5 553.8 L261 557" style="stroke:#444;stroke-width:0.8"/>
<path class="d" d="M259.5 555.6 L314.5 587.8" style="stroke-dasharray:6 4"/>
<path class="t" d="M231.5 575.2 L237 573.3 L242.5 575" style="stroke:#444;stroke-width:0.8"/>
<path class="d" d="M246 575.7 L315 588.3" style="stroke-dasharray:6 4"/>
<path class="d" d="M220.5 580 L228 576.8" style="stroke-dasharray:none"/>
<path d="M189.8 482.9 C189.9 484.75 190.7 490.15 190.4 494 C190.1 497.85 189.4 502 188 506 C186.6 510 183.8 514 182 518 C180.2 522 178.1 526.4 177.2 530 C176.3 533.6 176.2 536.83 176.6 539.6 C177 542.37 177.7 544.83 179.6 546.6 C181.5 548.37 184.77 549.47 188 550.2 C191.23 550.93 195.83 550.93 199 551 C202.17 551.07 205.67 550.67 207 550.6" fill="none" stroke="#444" stroke-width="5.6" stroke-linecap="butt"/>
<path d="M189.8 482.9 C189.9 484.75 190.7 490.15 190.4 494 C190.1 497.85 189.4 502 188 506 C186.6 510 183.8 514 182 518 C180.2 522 178.1 526.4 177.2 530 C176.3 533.6 176.2 536.83 176.6 539.6 C177 542.37 177.7 544.83 179.6 546.6 C181.5 548.37 184.77 549.47 188 550.2 C191.23 550.93 195.83 550.93 199 551 C202.17 551.07 205.67 550.67 207 550.6" fill="none" stroke="#f4f4f4" stroke-width="4.3" stroke-linecap="butt"/>
<path d="M189.8 482.9 C189.9 484.75 190.7 490.15 190.4 494 C190.1 497.85 189.4 502 188 506 C186.6 510 183.8 514 182 518 C180.2 522 178.1 526.4 177.2 530 C176.3 533.6 176.2 536.83 176.6 539.6 C177 542.37 177.7 544.83 179.6 546.6 C181.5 548.37 184.77 549.47 188 550.2 C191.23 550.93 195.83 550.93 199 551 C202.17 551.07 205.67 550.67 207 550.6" fill="none" stroke="#8a8a8a" stroke-width="2.3" stroke-linecap="butt"/>
<path d="M189.8 482.9 C189.9 484.75 190.7 490.15 190.4 494 C190.1 497.85 189.4 502 188 506 C186.6 510 183.8 514 182 518 C180.2 522 178.1 526.4 177.2 530 C176.3 533.6 176.2 536.83 176.6 539.6 C177 542.37 177.7 544.83 179.6 546.6 C181.5 548.37 184.77 549.47 188 550.2 C191.23 550.93 195.83 550.93 199 551 C202.17 551.07 205.67 550.67 207 550.6" fill="none" stroke="#f4f4f4" stroke-width="1.0" stroke-linecap="butt"/>
<path class="l" d="M207 549.4 L216.8 545.6 M207 550.6 L217.2 549 M207 552 L216.4 552.6" style="stroke:#333;stroke-width:0.9"/>
<path class="k" d="M206.4 548.4 L212.6 546.6 L213 550.6 L206.6 552.6 Z"/>
<text class="ser" x="185" y="540.6" font-size="18.6" textLength="7.3" lengthAdjust="spacingAndGlyphs">L</text>
<text class="ser" x="185.2" y="572.2" font-size="18.6" textLength="8.4" lengthAdjust="spacingAndGlyphs">N</text>
<path class="t" d="M193.3 534.4 L206.7 545.2"/>
<path class="t" d="M194 565.2 L199.7 565.2 L215.2 549.9"/>
<circle class="t" cx="171.6" cy="555.6" r="7.1"/>
<path class="t" d="M167.6 551.2 V560 M169.5 552.2 V559 M171.4 553.4 V557.8 M171.4 555.6 H201.8 L209 551.2"/>
<path class="l" d="M205.3 541.4 L212.3 541.4" style="stroke-width:1.2"/>
<path class="w" d="M212.3 540.1 L214.9 541.4 L212.3 542.7 Z" style="stroke-width:0.7"/>
<path class="l" d="M210.3 563.1 L217.8 563.1" style="stroke-width:1.2"/>
<path class="w" d="M217.8 561.8 L220.4 563.1 L217.8 564.4 Z" style="stroke-width:0.7"/>
<path class="l" d="M240.5 539 C241.42 538.7 244.25 537.83 246 537.2 C247.75 536.57 249.33 535.63 251 535.2 C252.67 534.77 254.17 534.7 256 534.6 C257.83 534.5 261 534.6 262 534.6" style="stroke:#777;stroke-width:2.2"/>
<path class="l" d="M244 546 C244.83 545.77 247.33 545.23 249 544.6 C250.67 543.97 252.33 542.7 254 542.2 C255.67 541.7 257.5 541.7 259 541.6 C260.5 541.5 262.33 541.6 263 541.6" style="stroke:#111;stroke-width:2.2"/>
<path class="l" d="M247.5 553 C248.25 552.77 250.42 552.23 252 551.6 C253.58 550.97 255.5 549.67 257 549.2 C258.5 548.73 260.33 548.87 261 548.8" style="stroke:#777;stroke-width:2.2"/>
<path class="w" d="M217.6 534.9 L222 531.5 L238.5 531.2 L248.6 552.2 L248.6 559.2 L227.3 559.7 L217.8 541 Z" style="stroke:none"/>
<path class="l" d="M239.6 534.5 L248.6 552.2 L248.6 559.2 L227.3 559.7 L217.8 541 L217.6 534.9 L227.3 553.7 L248.6 552.2"/>
<path class="l" d="M227.3 553.7 L227.3 559.7"/>
<path class="l" d="M217.6 534.9 L222.5 533.6"/>
<ellipse class="t" cx="220.3" cy="541.3" rx="0.9" ry="2" transform="rotate(-25 220.3 541.3)"/>
<ellipse class="t" cx="222.8" cy="546.3" rx="0.9" ry="2" transform="rotate(-25 222.8 546.3)"/>
<ellipse class="t" cx="225.2" cy="551.3" rx="0.9" ry="2" transform="rotate(-25 225.2 551.3)"/>
<path class="w" d="M222.4 532.7 V539.2 A3 1.6 0 0 0 228.4 539.2 V532.7 Z" style="stroke-width:0.8"/>
<ellipse class="l" cx="225.4" cy="532.7" rx="3.1" ry="1.9" style="fill:#111;stroke-width:0.8"/>
<path class="w" d="M230.7 532.7 V539.2 A3 1.6 0 0 0 236.7 539.2 V532.7 Z" style="stroke-width:0.8"/>
<ellipse class="l" cx="233.7" cy="532.7" rx="3.1" ry="1.9" style="fill:#111;stroke-width:0.8"/>
<path class="w" d="M225.7 539 V545.5 A3 1.6 0 0 0 231.7 545.5 V539 Z" style="stroke-width:0.8"/>
<ellipse class="l" cx="228.7" cy="539" rx="3.1" ry="1.9" style="fill:#111;stroke-width:0.8"/>
<path class="w" d="M234.2 539 V545.5 A3 1.6 0 0 0 240.2 545.5 V539 Z" style="stroke-width:0.8"/>
<ellipse class="l" cx="237.2" cy="539" rx="3.1" ry="1.9" style="fill:#111;stroke-width:0.8"/>
<path class="w" d="M228.6 544.6 V551.1 A3 1.6 0 0 0 234.6 551.1 V544.6 Z" style="stroke-width:0.8"/>
<ellipse class="l" cx="231.6" cy="544.6" rx="3.1" ry="1.9" style="fill:#111;stroke-width:0.8"/>
<path class="w" d="M236.8 544.6 V551.1 A3 1.6 0 0 0 242.8 551.1 V544.6 Z" style="stroke-width:0.8"/>
<ellipse class="l" cx="239.8" cy="544.6" rx="3.1" ry="1.9" style="fill:#111;stroke-width:0.8"/>
<path class="l" d="M220.4 488.6 Q223.5 483.6 226.6 488.6 V498.6 H220.4 Z" style="fill:#999;stroke:#333;stroke-width:0.9"/>
<path class="l" d="M222 487.3 V498.3 M223.5 486.6 V498.3 M225 487.3 V498.3" style="stroke:#555;stroke-width:0.6"/>
<rect class="w" x="220.9" y="498.8" width="5" height="3.3" style="stroke-width:0.8"/>
<rect x="222.5" y="502.2" width="2" height="14.2" fill="#bbb" stroke="#444" stroke-width="0.6"/>
<ellipse class="w" cx="223.2" cy="519.9" rx="1.9" ry="3.7" style="stroke-width:0.8"/>
<rect x="238.4" y="491.8" width="2.3" height="24" fill="#999" stroke="#555" stroke-width="0.5"/>
<path class="w" d="M236.3 515.9 L242.4 515.9 L239.4 521.8 Z" style="stroke-width:0.85"/>
<path class="l" d="M247.6 498.9 C244.5 497.6 240 497.7 236.6 499.2 C232.6 501 231.4 504.3 233.6 506.6 C235.8 508.9 240.5 509.5 244.3 509" style="stroke:#6a6a6a;stroke-width:1.7;stroke-linecap:butt"/>
<path class="w" d="M245 501.1 L248.6 498.2 L251.7 503.5 Z" style="stroke-width:0.85"/>
<circle class="t" cx="255.5" cy="515.1" r="8.1" style="stroke-width:0.8"/><text class="ser" x="250.8" y="520.8" font-size="17" textLength="9.4" lengthAdjust="spacingAndGlyphs">4</text>
</g>
<!-- s_lamp -->
<g id="lamp">
<path class="w" d="M238.3 626.5 L271.1 646.6 L430.4 615.3 L396.3 595 L391.3 573.5 L252.3 600.3 L252.3 623.6 Z" style="stroke:none"/>
<path class="m" d="M252.3 623.6 V600.3 L326.6 585.8"/>
<path class="m" d="M326.6 585.8 V591.6 L322 592.7 C319.4 593.3 319.4 597.9 322.2 597.3 L330.5 595.2 V584.9" style="stroke-width:1.25;stroke:#222"/>
<path class="m" d="M330.5 584.9 L391.3 573.5 V595.7"/>
<path class="m" d="M391.3 573.5 L438.5 601.3 V614"/>
<path class="m" d="M238.3 626.5 L396.3 595 L430.4 615.3" style="stroke-width:1.15;stroke:#444"/>
<path class="m" d="M238.3 626.5 L271.1 646.6"/>
<rect class="l" x="270.45" y="601.9" width="2.7" height="14.3" rx="1.35" style="stroke-width:1.05;stroke:#333"/>
<rect class="l" x="277.15" y="600.56" width="2.7" height="14.3" rx="1.35" style="stroke-width:1.05;stroke:#333"/>
<rect class="l" x="283.65" y="599.26" width="2.7" height="14.3" rx="1.35" style="stroke-width:1.05;stroke:#333"/>
<rect class="l" x="290.15" y="597.96" width="2.7" height="14.3" rx="1.35" style="stroke-width:1.05;stroke:#333"/>
<rect class="l" x="348.35" y="586.6" width="2.7" height="14.3" rx="1.35" style="stroke-width:1.05;stroke:#333"/>
<rect class="l" x="355.25" y="585.22" width="2.7" height="14.3" rx="1.35" style="stroke-width:1.05;stroke:#333"/>
<rect class="l" x="361.75" y="583.92" width="2.7" height="14.3" rx="1.35" style="stroke-width:1.05;stroke:#333"/>
<rect class="l" x="368.25" y="582.62" width="2.7" height="14.3" rx="1.35" style="stroke-width:1.05;stroke:#333"/>
<path class="m" d="M292 641.9 Q294 637.2 299.6 637.6 Q305 638 306.5 639.2"/>
<path class="m" d="M396.3 621.6 Q398.5 617 403 617.4 Q408 617.9 410 619"/>
<path class="m" d="M72.4 686.2 L615.6 578.62"/>
<path class="m" d="M89.4 696.1 L602.4 594.01"/>
<path class="m" d="M72.4 686.2 C73.6 690.5 77.5 695.2 82.7 696.2 C84.5 696.5 87 696.4 89.4 696.1"/>
<path class="m" d="M86.6 683.3 C84.6 687.5 85.6 692.5 89.4 696.1"/>
<path class="m" d="M616 578.8 C616.6 585 613 591.5 607.5 593.3 L602.4 594.1"/>
<path class="m" d="M616 578.8 C610 580.5 606 586.5 606.8 593.4"/>
<path class="m" d="M599.9 582.8 C598.6 587 599.5 591 602.4 594.1"/>
<path class="m" d="M288.1 656.6 L294.6 660.4 L452.9 628.9 L446.6 625.1"/>
<g transform="translate(0 0)">
<path class="w" d="M562.2 626.2 V600.2 Q562.6 595.8 568.9 595.8 Q575.2 595.8 575.6 600.2 V632 Z" style="stroke-width:1.1"/>
<path class="l" d="M562.2 605.2 Q563 601.6 568.9 601.6 Q574.8 601.6 575.6 604.8" style="stroke-width:1.7;stroke:#111"/>
<path class="w" d="M553.3 621.9 L613.8 648.1 L634.2 683.7 L599.1 719.2 L537.8 694.2 L517.5 658 Z"/>
<path class="l" d="M517.5 658 L579.8 682.6 L613.8 648.1"/>
<path class="l" d="M579.8 682.6 L599.1 719.2"/>
<path class="l" d="M575.38 631.46 L539.58 667.56"/>
<path class="l" d="M575.38 631.46 L613.8 648.1" style="stroke-width:1.4"/>
<path class="l" d="M539.58 667.56 L578 684.2" style="stroke-width:1.3"/>
<path class="l" d="M613.8 648.1 L578 684.2" style="stroke-width:1.3"/>
<path class="l" d="M563.45 643.5 L601.87 660.13" style="stroke-width:1.7;stroke:#111"/>
<path class="l" d="M551.52 655.53 L589.93 672.17" style="stroke-width:1.7;stroke:#111"/>
<path class="t" d="M566.48 641.37 L603.61 657.45" style="stroke-width:0.6"/>
<path class="t" d="M554.54 653.4 L591.68 669.48" style="stroke-width:0.6"/>
<path class="t" d="M542.61 665.43 L579.75 681.52" style="stroke-width:0.6"/>
<path class="l" d="M587.23 636.59 L551.43 672.69" style="stroke-width:0.85"/>
<path class="l" d="M589.15 637.42 L553.35 673.52" style="stroke-width:0.85"/>
<path class="l" d="M600.03 642.14 L564.23 678.24" style="stroke-width:0.85"/>
<path class="l" d="M601.95 642.97 L566.15 679.07" style="stroke-width:0.85"/>
<ellipse class="t" cx="576.77" cy="639.29" rx="3.6" ry="2.3" transform="rotate(-4 576.77 639.29)" style="stroke-width:0.8"/>
<ellipse class="t" cx="564.84" cy="651.32" rx="3.6" ry="2.3" transform="rotate(-4 564.84 651.32)" style="stroke-width:0.8"/>
<ellipse class="t" cx="552.91" cy="663.36" rx="3.6" ry="2.3" transform="rotate(-4 552.91 663.36)" style="stroke-width:0.8"/>
<ellipse class="t" cx="589.58" cy="644.84" rx="3.6" ry="2.3" transform="rotate(-4 589.58 644.84)" style="stroke-width:0.8"/>
<ellipse class="t" cx="577.65" cy="656.87" rx="3.6" ry="2.3" transform="rotate(-4 577.65 656.87)" style="stroke-width:0.8"/>
<ellipse class="t" cx="565.71" cy="668.9" rx="3.6" ry="2.3" transform="rotate(-4 565.71 668.9)" style="stroke-width:0.8"/>
<ellipse class="t" cx="602.39" cy="650.38" rx="3.6" ry="2.3" transform="rotate(-4 602.39 650.38)" style="stroke-width:0.8"/>
<ellipse class="t" cx="590.45" cy="662.41" rx="3.6" ry="2.3" transform="rotate(-4 590.45 662.41)" style="stroke-width:0.8"/>
<ellipse class="t" cx="578.52" cy="674.45" rx="3.6" ry="2.3" transform="rotate(-4 578.52 674.45)" style="stroke-width:0.8"/>
<path class="l" d="M540.24 666.98 L560.54 703.18"/>
<path class="t" d="M550.53 671.04 L570.83 707.24" style="stroke-width:0.6"/>
<path class="t" d="M551.71 671.51 L572.01 707.71" style="stroke-width:0.6"/>
<path class="t" d="M552.9 671.98 L573.2 708.18" style="stroke-width:0.6"/>
<path class="t" d="M563.71 676.25 L584.01 712.45" style="stroke-width:0.6"/>
<path class="t" d="M564.9 676.72 L585.2 712.92" style="stroke-width:0.6"/>
<path class="t" d="M566.09 677.18 L586.39 713.38" style="stroke-width:0.6"/>
<path class="t" d="M576.9 681.45 L597.2 717.65" style="stroke-width:0.6"/>
<path class="t" d="M578.09 681.92 L598.39 718.12" style="stroke-width:0.6"/>
<path class="t" d="M579.27 682.39 L599.57 718.59" style="stroke-width:0.6"/>
<path class="k" d="M547.21 679.41 L586.77 695.03 L587.92 697.08 L548.36 681.46 Z"/>
<path class="k" d="M553.98 691.47 L593.54 707.1 L594.69 709.15 L555.13 693.53 Z"/>
<ellipse class="w" cx="550.37" cy="676.8" rx="2.4" ry="3.8" transform="rotate(-27 550.37 676.8)" style="stroke-width:0.85"/>
<ellipse class="w" cx="557.14" cy="688.87" rx="2.4" ry="3.8" transform="rotate(-27 557.14 688.87)" style="stroke-width:0.85"/>
<ellipse class="w" cx="563.9" cy="700.94" rx="2.4" ry="3.8" transform="rotate(-27 563.9 700.94)" style="stroke-width:0.85"/>
<ellipse class="w" cx="563.56" cy="682.01" rx="2.4" ry="3.8" transform="rotate(-27 563.56 682.01)" style="stroke-width:0.85"/>
<ellipse class="w" cx="570.32" cy="694.08" rx="2.4" ry="3.8" transform="rotate(-27 570.32 694.08)" style="stroke-width:0.85"/>
<ellipse class="w" cx="577.09" cy="706.14" rx="2.4" ry="3.8" transform="rotate(-27 577.09 706.14)" style="stroke-width:0.85"/>
<ellipse class="w" cx="576.74" cy="687.22" rx="2.4" ry="3.8" transform="rotate(-27 576.74 687.22)" style="stroke-width:0.85"/>
<ellipse class="w" cx="583.51" cy="699.28" rx="2.4" ry="3.8" transform="rotate(-27 583.51 699.28)" style="stroke-width:0.85"/>
<ellipse class="w" cx="590.28" cy="711.35" rx="2.4" ry="3.8" transform="rotate(-27 590.28 711.35)" style="stroke-width:0.85"/>
<ellipse class="t" cx="606.5" cy="683.7" rx="12.4" ry="18.2" transform="rotate(-5 606.5 683.7)" style="stroke-width:0.9"/>
</g>
<g transform="translate(-222.3 44.1)">
<path class="w" d="M562.2 626.2 V600.2 Q562.6 595.8 568.9 595.8 Q575.2 595.8 575.6 600.2 V632 Z" style="stroke-width:1.1"/>
<path class="l" d="M562.2 605.2 Q563 601.6 568.9 601.6 Q574.8 601.6 575.6 604.8" style="stroke-width:1.7;stroke:#111"/>
<path class="w" d="M553.3 621.9 L613.8 648.1 L634.2 683.7 L599.1 719.2 L537.8 694.2 L517.5 658 Z"/>
<path class="l" d="M517.5 658 L579.8 682.6 L613.8 648.1"/>
<path class="l" d="M579.8 682.6 L599.1 719.2"/>
<path class="l" d="M575.38 631.46 L539.58 667.56"/>
<path class="l" d="M575.38 631.46 L613.8 648.1" style="stroke-width:1.4"/>
<path class="l" d="M539.58 667.56 L578 684.2" style="stroke-width:1.3"/>
<path class="l" d="M613.8 648.1 L578 684.2" style="stroke-width:1.3"/>
<path class="l" d="M563.45 643.5 L601.87 660.13" style="stroke-width:1.7;stroke:#111"/>
<path class="l" d="M551.52 655.53 L589.93 672.17" style="stroke-width:1.7;stroke:#111"/>
<path class="t" d="M566.48 641.37 L603.61 657.45" style="stroke-width:0.6"/>
<path class="t" d="M554.54 653.4 L591.68 669.48" style="stroke-width:0.6"/>
<path class="t" d="M542.61 665.43 L579.75 681.52" style="stroke-width:0.6"/>
<path class="l" d="M587.23 636.59 L551.43 672.69" style="stroke-width:0.85"/>
<path class="l" d="M589.15 637.42 L553.35 673.52" style="stroke-width:0.85"/>
<path class="l" d="M600.03 642.14 L564.23 678.24" style="stroke-width:0.85"/>
<path class="l" d="M601.95 642.97 L566.15 679.07" style="stroke-width:0.85"/>
<ellipse class="t" cx="576.77" cy="639.29" rx="3.6" ry="2.3" transform="rotate(-4 576.77 639.29)" style="stroke-width:0.8"/>
<ellipse class="t" cx="564.84" cy="651.32" rx="3.6" ry="2.3" transform="rotate(-4 564.84 651.32)" style="stroke-width:0.8"/>
<ellipse class="t" cx="552.91" cy="663.36" rx="3.6" ry="2.3" transform="rotate(-4 552.91 663.36)" style="stroke-width:0.8"/>
<ellipse class="t" cx="589.58" cy="644.84" rx="3.6" ry="2.3" transform="rotate(-4 589.58 644.84)" style="stroke-width:0.8"/>
<ellipse class="t" cx="577.65" cy="656.87" rx="3.6" ry="2.3" transform="rotate(-4 577.65 656.87)" style="stroke-width:0.8"/>
<ellipse class="t" cx="565.71" cy="668.9" rx="3.6" ry="2.3" transform="rotate(-4 565.71 668.9)" style="stroke-width:0.8"/>
<ellipse class="t" cx="602.39" cy="650.38" rx="3.6" ry="2.3" transform="rotate(-4 602.39 650.38)" style="stroke-width:0.8"/>
<ellipse class="t" cx="590.45" cy="662.41" rx="3.6" ry="2.3" transform="rotate(-4 590.45 662.41)" style="stroke-width:0.8"/>
<ellipse class="t" cx="578.52" cy="674.45" rx="3.6" ry="2.3" transform="rotate(-4 578.52 674.45)" style="stroke-width:0.8"/>
<path class="l" d="M540.24 666.98 L560.54 703.18"/>
<path class="t" d="M550.53 671.04 L570.83 707.24" style="stroke-width:0.6"/>
<path class="t" d="M551.71 671.51 L572.01 707.71" style="stroke-width:0.6"/>
<path class="t" d="M552.9 671.98 L573.2 708.18" style="stroke-width:0.6"/>
<path class="t" d="M563.71 676.25 L584.01 712.45" style="stroke-width:0.6"/>
<path class="t" d="M564.9 676.72 L585.2 712.92" style="stroke-width:0.6"/>
<path class="t" d="M566.09 677.18 L586.39 713.38" style="stroke-width:0.6"/>
<path class="t" d="M576.9 681.45 L597.2 717.65" style="stroke-width:0.6"/>
<path class="t" d="M578.09 681.92 L598.39 718.12" style="stroke-width:0.6"/>
<path class="t" d="M579.27 682.39 L599.57 718.59" style="stroke-width:0.6"/>
<path class="k" d="M547.21 679.41 L586.77 695.03 L587.92 697.08 L548.36 681.46 Z"/>
<path class="k" d="M553.98 691.47 L593.54 707.1 L594.69 709.15 L555.13 693.53 Z"/>
<ellipse class="w" cx="550.37" cy="676.8" rx="2.4" ry="3.8" transform="rotate(-27 550.37 676.8)" style="stroke-width:0.85"/>
<ellipse class="w" cx="557.14" cy="688.87" rx="2.4" ry="3.8" transform="rotate(-27 557.14 688.87)" style="stroke-width:0.85"/>
<ellipse class="w" cx="563.9" cy="700.94" rx="2.4" ry="3.8" transform="rotate(-27 563.9 700.94)" style="stroke-width:0.85"/>
<ellipse class="w" cx="563.56" cy="682.01" rx="2.4" ry="3.8" transform="rotate(-27 563.56 682.01)" style="stroke-width:0.85"/>
<ellipse class="w" cx="570.32" cy="694.08" rx="2.4" ry="3.8" transform="rotate(-27 570.32 694.08)" style="stroke-width:0.85"/>
<ellipse class="w" cx="577.09" cy="706.14" rx="2.4" ry="3.8" transform="rotate(-27 577.09 706.14)" style="stroke-width:0.85"/>
<ellipse class="w" cx="576.74" cy="687.22" rx="2.4" ry="3.8" transform="rotate(-27 576.74 687.22)" style="stroke-width:0.85"/>
<ellipse class="w" cx="583.51" cy="699.28" rx="2.4" ry="3.8" transform="rotate(-27 583.51 699.28)" style="stroke-width:0.85"/>
<ellipse class="w" cx="590.28" cy="711.35" rx="2.4" ry="3.8" transform="rotate(-27 590.28 711.35)" style="stroke-width:0.85"/>
<ellipse class="t" cx="606.5" cy="683.7" rx="12.4" ry="18.2" transform="rotate(-5 606.5 683.7)" style="stroke-width:0.9"/>
</g>
<g transform="translate(-444.7 88.4)">
<path class="w" d="M562.2 626.2 V600.2 Q562.6 595.8 568.9 595.8 Q575.2 595.8 575.6 600.2 V632 Z" style="stroke-width:1.1"/>
<path class="l" d="M562.2 605.2 Q563 601.6 568.9 601.6 Q574.8 601.6 575.6 604.8" style="stroke-width:1.7;stroke:#111"/>
<path class="w" d="M553.3 621.9 L613.8 648.1 L634.2 683.7 L599.1 719.2 L537.8 694.2 L517.5 658 Z"/>
<path class="l" d="M517.5 658 L579.8 682.6 L613.8 648.1"/>
<path class="l" d="M579.8 682.6 L599.1 719.2"/>
<path class="l" d="M575.38 631.46 L539.58 667.56"/>
<path class="l" d="M575.38 631.46 L613.8 648.1" style="stroke-width:1.4"/>
<path class="l" d="M539.58 667.56 L578 684.2" style="stroke-width:1.3"/>
<path class="l" d="M613.8 648.1 L578 684.2" style="stroke-width:1.3"/>
<path class="l" d="M563.45 643.5 L601.87 660.13" style="stroke-width:1.7;stroke:#111"/>
<path class="l" d="M551.52 655.53 L589.93 672.17" style="stroke-width:1.7;stroke:#111"/>
<path class="t" d="M566.48 641.37 L603.61 657.45" style="stroke-width:0.6"/>
<path class="t" d="M554.54 653.4 L591.68 669.48" style="stroke-width:0.6"/>
<path class="t" d="M542.61 665.43 L579.75 681.52" style="stroke-width:0.6"/>
<path class="l" d="M587.23 636.59 L551.43 672.69" style="stroke-width:0.85"/>
<path class="l" d="M589.15 637.42 L553.35 673.52" style="stroke-width:0.85"/>
<path class="l" d="M600.03 642.14 L564.23 678.24" style="stroke-width:0.85"/>
<path class="l" d="M601.95 642.97 L566.15 679.07" style="stroke-width:0.85"/>
<ellipse class="t" cx="576.77" cy="639.29" rx="3.6" ry="2.3" transform="rotate(-4 576.77 639.29)" style="stroke-width:0.8"/>
<ellipse class="t" cx="564.84" cy="651.32" rx="3.6" ry="2.3" transform="rotate(-4 564.84 651.32)" style="stroke-width:0.8"/>
<ellipse class="t" cx="552.91" cy="663.36" rx="3.6" ry="2.3" transform="rotate(-4 552.91 663.36)" style="stroke-width:0.8"/>
<ellipse class="t" cx="589.58" cy="644.84" rx="3.6" ry="2.3" transform="rotate(-4 589.58 644.84)" style="stroke-width:0.8"/>
<ellipse class="t" cx="577.65" cy="656.87" rx="3.6" ry="2.3" transform="rotate(-4 577.65 656.87)" style="stroke-width:0.8"/>
<ellipse class="t" cx="565.71" cy="668.9" rx="3.6" ry="2.3" transform="rotate(-4 565.71 668.9)" style="stroke-width:0.8"/>
<ellipse class="t" cx="602.39" cy="650.38" rx="3.6" ry="2.3" transform="rotate(-4 602.39 650.38)" style="stroke-width:0.8"/>
<ellipse class="t" cx="590.45" cy="662.41" rx="3.6" ry="2.3" transform="rotate(-4 590.45 662.41)" style="stroke-width:0.8"/>
<ellipse class="t" cx="578.52" cy="674.45" rx="3.6" ry="2.3" transform="rotate(-4 578.52 674.45)" style="stroke-width:0.8"/>
<path class="l" d="M540.24 666.98 L560.54 703.18"/>
<path class="t" d="M550.53 671.04 L570.83 707.24" style="stroke-width:0.6"/>
<path class="t" d="M551.71 671.51 L572.01 707.71" style="stroke-width:0.6"/>
<path class="t" d="M552.9 671.98 L573.2 708.18" style="stroke-width:0.6"/>
<path class="t" d="M563.71 676.25 L584.01 712.45" style="stroke-width:0.6"/>
<path class="t" d="M564.9 676.72 L585.2 712.92" style="stroke-width:0.6"/>
<path class="t" d="M566.09 677.18 L586.39 713.38" style="stroke-width:0.6"/>
<path class="t" d="M576.9 681.45 L597.2 717.65" style="stroke-width:0.6"/>
<path class="t" d="M578.09 681.92 L598.39 718.12" style="stroke-width:0.6"/>
<path class="t" d="M579.27 682.39 L599.57 718.59" style="stroke-width:0.6"/>
<path class="k" d="M547.21 679.41 L586.77 695.03 L587.92 697.08 L548.36 681.46 Z"/>
<path class="k" d="M553.98 691.47 L593.54 707.1 L594.69 709.15 L555.13 693.53 Z"/>
<ellipse class="w" cx="550.37" cy="676.8" rx="2.4" ry="3.8" transform="rotate(-27 550.37 676.8)" style="stroke-width:0.85"/>
<ellipse class="w" cx="557.14" cy="688.87" rx="2.4" ry="3.8" transform="rotate(-27 557.14 688.87)" style="stroke-width:0.85"/>
<ellipse class="w" cx="563.9" cy="700.94" rx="2.4" ry="3.8" transform="rotate(-27 563.9 700.94)" style="stroke-width:0.85"/>
<ellipse class="w" cx="563.56" cy="682.01" rx="2.4" ry="3.8" transform="rotate(-27 563.56 682.01)" style="stroke-width:0.85"/>
<ellipse class="w" cx="570.32" cy="694.08" rx="2.4" ry="3.8" transform="rotate(-27 570.32 694.08)" style="stroke-width:0.85"/>
<ellipse class="w" cx="577.09" cy="706.14" rx="2.4" ry="3.8" transform="rotate(-27 577.09 706.14)" style="stroke-width:0.85"/>
<ellipse class="w" cx="576.74" cy="687.22" rx="2.4" ry="3.8" transform="rotate(-27 576.74 687.22)" style="stroke-width:0.85"/>
<ellipse class="w" cx="583.51" cy="699.28" rx="2.4" ry="3.8" transform="rotate(-27 583.51 699.28)" style="stroke-width:0.85"/>
<ellipse class="w" cx="590.28" cy="711.35" rx="2.4" ry="3.8" transform="rotate(-27 590.28 711.35)" style="stroke-width:0.85"/>
<ellipse class="t" cx="606.5" cy="683.7" rx="12.4" ry="18.2" transform="rotate(-5 606.5 683.7)" style="stroke-width:0.9"/>
</g>
</g>
<!-- s_detail -->
<g id="detail">
<path class="d" style="stroke-dasharray:4.4 4.6" d="M326.61 786.67 A141.3 72.05 0 1 1 306.42 791.11"/>
<path class="d" d="M306.42 791.11 C307.07 787.48 308.84 777.72 310.3 769.3 C311.76 760.88 313.62 748.87 315.2 740.6 C316.78 732.33 319.03 723.18 319.8 719.7" style="stroke-dasharray:4.4 4.6"/>
<path class="d" d="M326.61 786.67 C326.19 783.13 324.9 772.76 324.1 765.4 C323.3 758.04 322.78 748.45 321.8 742.5 C320.82 736.55 318.53 733.5 318.2 729.7 C317.87 725.9 319.53 721.37 319.8 719.7" style="stroke-dasharray:4.4 4.6"/>
<path class="l" d="M262.7 809.5 L270.4 826.3"/>
<path class="l" d="M272.3 805 L284.3 833.1"/>
<path class="w" d="M256 826.3 L275.6 826.3 L301.9 847.3 L286.6 884.1 L267 884.3 L240.4 863.5 Z"/>
<path class="l" d="M240.4 863.5 L260.8 863.5 L275.6 826.3"/>
<path class="l" d="M260.8 863.5 L286.6 884.1"/>
<path class="t" d="M276.57 831.24 L298.37 848.65 L285.7 879.22 L264.25 862.09 Z" style="stroke-width:0.8"/>
<path class="t" d="M277.54 836.18 L294.84 850 L284.8 874.33 L267.72 860.69 Z" style="stroke-width:0.8"/>
<path class="l" d="M277.88 841.36 L282.07 844.7" style="stroke:#222;stroke-width:2.6"/><path class="l" d="M277.88 841.36 L282.07 844.7" style="stroke:#fff;stroke-width:1.5"/>
<path class="l" d="M275.94 846.18 L280.64 849.93" style="stroke:#222;stroke-width:2.6"/><path class="l" d="M275.94 846.18 L280.64 849.93" style="stroke:#fff;stroke-width:1.5"/>
<path class="l" d="M274 851.01 L278.17 854.33" style="stroke:#222;stroke-width:2.6"/><path class="l" d="M274 851.01 L278.17 854.33" style="stroke:#fff;stroke-width:1.5"/>
<path class="l" d="M272.06 855.83 L276.74 859.56" style="stroke:#222;stroke-width:2.6"/><path class="l" d="M272.06 855.83 L276.74 859.56" style="stroke:#fff;stroke-width:1.5"/>
<path class="l" d="M284.9 851.37 L291.17 856.38" style="stroke:#222;stroke-width:2.6"/><path class="l" d="M284.9 851.37 L291.17 856.38" style="stroke:#fff;stroke-width:1.5"/>
<path class="l" d="M281.23 855.3 L289.04 861.54" style="stroke:#222;stroke-width:2.6"/><path class="l" d="M281.23 855.3 L289.04 861.54" style="stroke:#fff;stroke-width:1.5"/>
<path class="l" d="M274.42 863.59 L283.23 870.63" style="stroke:#222;stroke-width:2.6"/><path class="l" d="M274.42 863.59 L283.23 870.63" style="stroke:#fff;stroke-width:1.5"/>
<path class="l" d="M279.64 860.89 L286.91 866.7" style="stroke:#222;stroke-width:2.6"/><path class="l" d="M279.64 860.89 L286.91 866.7" style="stroke:#fff;stroke-width:1.5"/>
<circle class="k" cx="274.1" cy="855.2" r="1.5"/>
<path class="t" d="M262.5 861 L274 855.3"/>
<path class="t" d="M274 855.3 L290 851"/>
<path class="l" d="M280.9 842.2 C281.5 843.5 283.27 847.55 284.5 850 C285.73 852.45 286.35 854.15 288.3 856.9 C290.25 859.65 293.75 863.1 296.2 866.5 C298.65 869.9 300.92 874.25 303 877.3 C305.08 880.35 306.62 883.15 308.7 884.8 C310.78 886.45 313.28 887.33 315.5 887.2 C317.72 887.07 320.17 885.53 322 884 C323.83 882.47 325.42 879.75 326.5 878 C327.58 876.25 328.17 874.25 328.5 873.5" style="stroke:#222;stroke-width:2.6"/>
<path class="l" d="M280.9 842.2 C281.5 843.5 283.27 847.55 284.5 850 C285.73 852.45 286.35 854.15 288.3 856.9 C290.25 859.65 293.75 863.1 296.2 866.5 C298.65 869.9 300.92 874.25 303 877.3 C305.08 880.35 306.62 883.15 308.7 884.8 C310.78 886.45 313.28 887.33 315.5 887.2 C317.72 887.07 320.17 885.53 322 884 C323.83 882.47 325.42 879.75 326.5 878 C327.58 876.25 328.17 874.25 328.5 873.5" style="stroke:#808080;stroke-width:1.5"/>
<ellipse class="l" cx="281" cy="842.4" rx="1.2" ry="2.2" transform="rotate(-25 281 842.4)" style="fill:#555;stroke-width:0.8"/>
<path class="t" d="M296.5 855.3 L334 855.3" style="stroke-dasharray:9 3 2 3;stroke-width:0.6"/>
<path class="t" d="M356 855.4 L452 855.4" style="stroke-dasharray:9 3 2 3;stroke-width:0.6"/>
<path class="t" d="M308.3 856.3 L315.9 870.9"/><path class="k" d="M315.9 870.9 L311.76 866.85 L314.96 865.19 Z"/>
<path class="w" d="M342.2 830.5 L366.2 849.9 L352.7 880.1 L329.2 861 Z" style="stroke-width:0.9;stroke:#222"/>
<path class="l" d="M366.5 850.2 L353 880.4" style="stroke-width:1.5;stroke:#222"/>
<path class="l" d="M329.2 861.2 L352.7 880.3" style="stroke-width:1.1;stroke:#222"/>
<rect class="l" x="342" y="834.15" width="2.1" height="2.8" rx="0.3" transform="rotate(-20 343.1 835.6)" style="stroke-width:0.95;stroke:#222"/>
<rect class="l" x="339.6" y="840.35" width="2.1" height="2.8" rx="0.3" transform="rotate(-20 340.7 841.8)" style="stroke-width:0.95;stroke:#222"/>
<rect class="l" x="337.2" y="846.55" width="2.1" height="2.8" rx="0.3" transform="rotate(-20 338.3 848)" style="stroke-width:0.95;stroke:#222"/>
<rect class="l" x="334.8" y="852.75" width="2.1" height="2.8" rx="0.3" transform="rotate(-20 335.9 854.2)" style="stroke-width:0.95;stroke:#222"/>
<rect class="l" x="332.4" y="858.95" width="2.1" height="2.8" rx="0.3" transform="rotate(-20 333.5 860.4)" style="stroke-width:0.95;stroke:#222"/>
<rect class="l" x="346.8" y="837.75" width="2.1" height="2.8" rx="0.3" transform="rotate(-20 347.9 839.2)" style="stroke-width:0.95;stroke:#222"/>
<rect class="l" x="344.4" y="843.95" width="2.1" height="2.8" rx="0.3" transform="rotate(-20 345.5 845.4)" style="stroke-width:0.95;stroke:#222"/>
<rect class="l" x="342" y="850.15" width="2.1" height="2.8" rx="0.3" transform="rotate(-20 343.1 851.6)" style="stroke-width:0.95;stroke:#222"/>
<rect class="l" x="339.6" y="856.35" width="2.1" height="2.8" rx="0.3" transform="rotate(-20 340.7 857.8)" style="stroke-width:0.95;stroke:#222"/>
<rect class="l" x="337.2" y="862.55" width="2.1" height="2.8" rx="0.3" transform="rotate(-20 338.3 864)" style="stroke-width:0.95;stroke:#222"/>
<rect class="l" x="351.6" y="841.35" width="2.1" height="2.8" rx="0.3" transform="rotate(-20 352.7 842.8)" style="stroke-width:0.95;stroke:#222"/>
<rect class="l" x="349.2" y="847.55" width="2.1" height="2.8" rx="0.3" transform="rotate(-20 350.3 849)" style="stroke-width:0.95;stroke:#222"/>
<rect class="l" x="344.4" y="859.95" width="2.1" height="2.8" rx="0.3" transform="rotate(-20 345.5 861.4)" style="stroke-width:0.95;stroke:#222"/>
<rect class="l" x="342" y="866.15" width="2.1" height="2.8" rx="0.3" transform="rotate(-20 343.1 867.6)" style="stroke-width:0.95;stroke:#222"/>
<rect class="l" x="356.4" y="844.95" width="2.1" height="2.8" rx="0.3" transform="rotate(-20 357.5 846.4)" style="stroke-width:0.95;stroke:#222"/>
<rect class="l" x="354" y="851.15" width="2.1" height="2.8" rx="0.3" transform="rotate(-20 355.1 852.6)" style="stroke-width:0.95;stroke:#222"/>
<rect class="l" x="351.6" y="857.35" width="2.1" height="2.8" rx="0.3" transform="rotate(-20 352.7 858.8)" style="stroke-width:0.95;stroke:#222"/>
<rect class="l" x="349.2" y="863.55" width="2.1" height="2.8" rx="0.3" transform="rotate(-20 350.3 865)" style="stroke-width:0.95;stroke:#222"/>
<rect class="l" x="346.8" y="869.75" width="2.1" height="2.8" rx="0.3" transform="rotate(-20 347.9 871.2)" style="stroke-width:0.95;stroke:#222"/>
<rect class="l" x="361.2" y="848.55" width="2.1" height="2.8" rx="0.3" transform="rotate(-20 362.3 850)" style="stroke-width:0.95;stroke:#222"/>
<rect class="l" x="358.8" y="854.75" width="2.1" height="2.8" rx="0.3" transform="rotate(-20 359.9 856.2)" style="stroke-width:0.95;stroke:#222"/>
<rect class="l" x="356.4" y="860.95" width="2.1" height="2.8" rx="0.3" transform="rotate(-20 357.5 862.4)" style="stroke-width:0.95;stroke:#222"/>
<rect class="l" x="354" y="867.15" width="2.1" height="2.8" rx="0.3" transform="rotate(-20 355.1 868.6)" style="stroke-width:0.95;stroke:#222"/>
<rect class="l" x="351.6" y="873.35" width="2.1" height="2.8" rx="0.3" transform="rotate(-20 352.7 874.8)" style="stroke-width:0.95;stroke:#222"/>
<circle class="l" cx="347.9" cy="855.2" r="2.4" style="fill:#777;stroke:#222;stroke-width:1"/>
<path class="l" d="M348.4 856.2 L351.1 859.8" style="stroke-width:1.5;stroke:#222"/>
<path class="l" d="M336.3 844.2 C334.92 843.9 330.63 843.05 328 842.4 C325.37 841.75 322.23 840.28 320.5 840.3 C318.77 840.32 318.12 841.22 317.6 842.5 C317.08 843.78 317.43 847.08 317.4 848" style="stroke:#222;stroke-width:2.6"/>
<path class="l" d="M336.3 844.2 C334.92 843.9 330.63 843.05 328 842.4 C325.37 841.75 322.23 840.28 320.5 840.3 C318.77 840.32 318.12 841.22 317.6 842.5 C317.08 843.78 317.43 847.08 317.4 848" style="stroke:#808080;stroke-width:1.5"/>
<path class="l" d="M316.2 847.2 L319.6 846.2 L321.6 856.6 L318.4 857.8 Z" style="fill:#444;stroke-width:0.9"/>
<path class="l" d="M315.6 851.4 L321.4 849.8" style="stroke-width:1.2"/>
<path class="w" d="M320.4 860.2 L324.2 858.6 L328.2 872 L324.4 873.6 Z"/>
<path class="t" d="M321.8 865 L325.6 863.5"/>
<path class="t" d="M327 873 L341.4 885.6"/>
<ellipse class="d" cx="346" cy="895" rx="7.4" ry="12.6" transform="rotate(-14 346 895)" style="stroke-dasharray:3.5 2.6;fill:none"/>
<path class="l" d="M341 886 L344.8 884.8 L346.6 891.6 L342.8 892.8 Z" style="fill:#444;stroke-width:0.9"/>
<path class="l" d="M340.3 889.6 L346.8 887.8" style="stroke-width:1.1"/>
<path class="w" d="M343.2 893 L346.8 891.9 L350.6 904.4 L347 905.6 Z"/>
<path class="t" d="M344.6 897.6 L348.2 896.4"/>
<path class="t" d="M346.5 906.5 L351.6 905"/>
<circle class="t" cx="327.5" cy="895.6" r="5.6" style="stroke-width:0.7"/><text class="ser" x="323.9" y="899.4" font-size="11.4" textLength="7.2" lengthAdjust="spacingAndGlyphs">C</text>
<path class="w" d="M385.6 826.5 L418.6 826.5 L444.5 846.9 L428.9 883.6 L395.2 883.6 L369.4 863.85 Z" style="stroke-width:1.1"/>
<path class="l" d="M418.6 826.5 L402.6 863.9 L428.9 883.6" style="stroke-width:1.1"/>
<path class="l" d="M369.4 863.85 L402.6 863.9" style="stroke-width:1.2"/>
<path class="l" d="M380.2 838.95 L413.35 838.95" style="stroke-width:1.5;stroke:#111"/>
<path class="l" d="M374.8 851.4 L407.95 851.4" style="stroke-width:1.5;stroke:#111"/>
<path class="l" d="M396.04 826.5 L379.84 863.85" style="stroke-width:0.8"/>
<path class="l" d="M397.26 826.5 L381.06 863.85" style="stroke-width:0.8"/>
<path class="l" d="M407.09 826.5 L390.89 863.85" style="stroke-width:0.8"/>
<path class="l" d="M408.31 826.5 L392.11 863.85" style="stroke-width:0.8"/>
<ellipse class="l" cx="388.69" cy="832.1" rx="2.8" ry="1.8" transform="rotate(-22 388.69 832.1)" style="stroke-width:0.8"/>
<ellipse class="l" cx="383.3" cy="844.55" rx="2.8" ry="1.8" transform="rotate(-22 383.3 844.55)" style="stroke-width:0.8"/>
<ellipse class="l" cx="377.89" cy="857" rx="2.8" ry="1.8" transform="rotate(-22 377.89 857)" style="stroke-width:0.8"/>
<ellipse class="l" cx="399.75" cy="832.1" rx="2.8" ry="1.8" transform="rotate(-22 399.75 832.1)" style="stroke-width:0.8"/>
<ellipse class="l" cx="394.35" cy="844.55" rx="2.8" ry="1.8" transform="rotate(-22 394.35 844.55)" style="stroke-width:0.8"/>
<ellipse class="l" cx="388.94" cy="857" rx="2.8" ry="1.8" transform="rotate(-22 388.94 857)" style="stroke-width:0.8"/>
<ellipse class="l" cx="410.8" cy="832.1" rx="2.8" ry="1.8" transform="rotate(-22 410.8 832.1)" style="stroke-width:0.8"/>
<ellipse class="l" cx="405.4" cy="844.55" rx="2.8" ry="1.8" transform="rotate(-22 405.4 844.55)" style="stroke-width:0.8"/>
<ellipse class="l" cx="400" cy="857" rx="2.8" ry="1.8" transform="rotate(-22 400 857)" style="stroke-width:0.8"/>
<path class="l" d="M377.8 863.85 L403.6 883.6" style="stroke-width:0.7"/>
<path class="l" d="M378.79 863.85 L404.59 883.6" style="stroke-width:0.7"/>
<path class="l" d="M379.79 863.85 L405.59 883.6" style="stroke-width:0.7"/>
<path class="l" d="M388.85 863.85 L414.65 883.6" style="stroke-width:0.7"/>
<path class="l" d="M389.84 863.85 L415.64 883.6" style="stroke-width:0.7"/>
<path class="l" d="M390.84 863.85 L416.64 883.6" style="stroke-width:0.7"/>
<path class="l" d="M399.9 863.85 L425.7 883.6" style="stroke-width:0.7"/>
<path class="l" d="M400.89 863.85 L426.69 883.6" style="stroke-width:0.7"/>
<path class="l" d="M401.89 863.85 L427.69 883.6" style="stroke-width:0.7"/>
<path class="k" d="M377.83 870.3 L410.98 870.3 L413.21 872.01 L380.06 872.01 Z"/>
<path class="k" d="M386.43 876.88 L419.58 876.88 L421.81 878.6 L388.66 878.6 Z"/>
<path class="l" d="M369.92 864.25 L403.07 864.25" style="stroke-width:1.3;stroke:#111"/>
<ellipse class="w" cx="379.55" cy="868.06" rx="2.3" ry="1.25" transform="rotate(36 379.55 868.06)" style="stroke-width:0.8"/>
<ellipse class="w" cx="390.6" cy="868.06" rx="2.3" ry="1.25" transform="rotate(36 390.6 868.06)" style="stroke-width:0.8"/>
<ellipse class="w" cx="401.64" cy="868.06" rx="2.3" ry="1.25" transform="rotate(36 401.64 868.06)" style="stroke-width:0.8"/>
<ellipse class="w" cx="388.15" cy="874.65" rx="2.3" ry="1.25" transform="rotate(36 388.15 874.65)" style="stroke-width:0.8"/>
<ellipse class="w" cx="399.19" cy="874.65" rx="2.3" ry="1.25" transform="rotate(36 399.19 874.65)" style="stroke-width:0.8"/>
<ellipse class="w" cx="410.25" cy="874.65" rx="2.3" ry="1.25" transform="rotate(36 410.25 874.65)" style="stroke-width:0.8"/>
<ellipse class="w" cx="396.75" cy="881.23" rx="2.3" ry="1.25" transform="rotate(36 396.75 881.23)" style="stroke-width:0.8"/>
<ellipse class="w" cx="407.79" cy="881.23" rx="2.3" ry="1.25" transform="rotate(36 407.79 881.23)" style="stroke-width:0.8"/>
<ellipse class="w" cx="418.84" cy="881.23" rx="2.3" ry="1.25" transform="rotate(36 418.84 881.23)" style="stroke-width:0.8"/>
<ellipse class="w" cx="423.5" cy="855.4" rx="9.3" ry="14.4" transform="rotate(-6 423.5 855.4)" style="stroke-width:0.9"/>
<path class="t" d="M409 855.4 L448.5 855.4" style="stroke-dasharray:9 3 2 3;stroke-width:0.6"/>
<ellipse class="w" cx="453" cy="855.4" rx="3.4" ry="5.6" style="stroke-width:1.6;stroke:#111"/>
<ellipse class="k" cx="453.3" cy="855.4" rx="0.8" ry="1.5"/>
<path class="t" d="M456.5 855.4 L462.5 855.4"/>
<path class="l" d="M462.9 855.4 L474.8 855.4" style="stroke:#222;stroke-width:2.9;stroke-linecap:butt"/>
<path class="t" d="M463.6 854.1 L464.1 856.7" style="stroke:#ccc;stroke-width:0.45"/>
<path class="t" d="M465.1 854.1 L465.6 856.7" style="stroke:#ccc;stroke-width:0.45"/>
<path class="t" d="M466.6 854.1 L467.1 856.7" style="stroke:#ccc;stroke-width:0.45"/>
<path class="t" d="M468.1 854.1 L468.6 856.7" style="stroke:#ccc;stroke-width:0.45"/>
<path class="t" d="M469.6 854.1 L470.1 856.7" style="stroke:#ccc;stroke-width:0.45"/>
<path class="t" d="M471.1 854.1 L471.6 856.7" style="stroke:#ccc;stroke-width:0.45"/>
<path class="t" d="M472.6 854.1 L473.1 856.7" style="stroke:#ccc;stroke-width:0.45"/>
<path class="t" d="M474.1 854.1 L474.6 856.7" style="stroke:#ccc;stroke-width:0.45"/>
<ellipse class="w" cx="476.6" cy="855.4" rx="1.8" ry="3.3" style="stroke-width:1.4;stroke:#111"/>
<circle class="t" cx="402.5" cy="808.4" r="5.5" style="stroke-width:0.7"/><text class="ser" x="398.9" y="812.2" font-size="11.4" textLength="7.2" lengthAdjust="spacingAndGlyphs">B</text>
<path class="t" d="M392.4 819.3 L409.6 819.3"/><path class="k" d="M409.6 819.3 L404.1 821 L404.1 817.6 Z"/>
<circle class="t" cx="421.2" cy="901.2" r="5.6" style="stroke-width:0.7"/><text class="ser" x="417.4" y="905" font-size="11.4" textLength="7.6" lengthAdjust="spacingAndGlyphs">D</text>
<path class="t" d="M429.4 890.2 L411.6 890.2"/><path class="k" d="M411.6 890.2 L417.1 888.5 L417.1 891.9 Z"/>
<circle class="t" cx="471.7" cy="829.1" r="5.6" style="stroke-width:0.7"/><text class="ser" x="467.9" y="832.9" font-size="11.4" textLength="7.6" lengthAdjust="spacingAndGlyphs">A</text>
<circle class="t" cx="488" cy="878.9" r="5.6" style="stroke-width:0.7"/><text class="ser" x="484.5" y="882.7" font-size="11.4" textLength="7" lengthAdjust="spacingAndGlyphs">E</text>
<path class="t" d="M458.6 840.1 L476.8 840.1"/><path class="k" d="M476.8 840.1 L471.3 841.8 L471.3 838.4 Z"/>
<path class="t" d="M462.2 837.2 C463.6 834 466.6 835.5 466.8 839 C467 842 465.6 844.5 464.6 846.5"/>
<path class="k" d="M463.9 848.2 L464.21 843.15 L467.18 844.35 Z"/>
<path class="t" d="M496.5 864.3 L478.5 864.3"/><path class="k" d="M478.5 864.3 L484 862.6 L484 866 Z"/>
<path class="t" d="M492.8 870 C489.5 871 488.6 866 490 861"/>
<path class="k" d="M490.9 856.2 L491.2 861.25 L488.11 860.42 Z"/>
</g>
</svg>
</body></html>
